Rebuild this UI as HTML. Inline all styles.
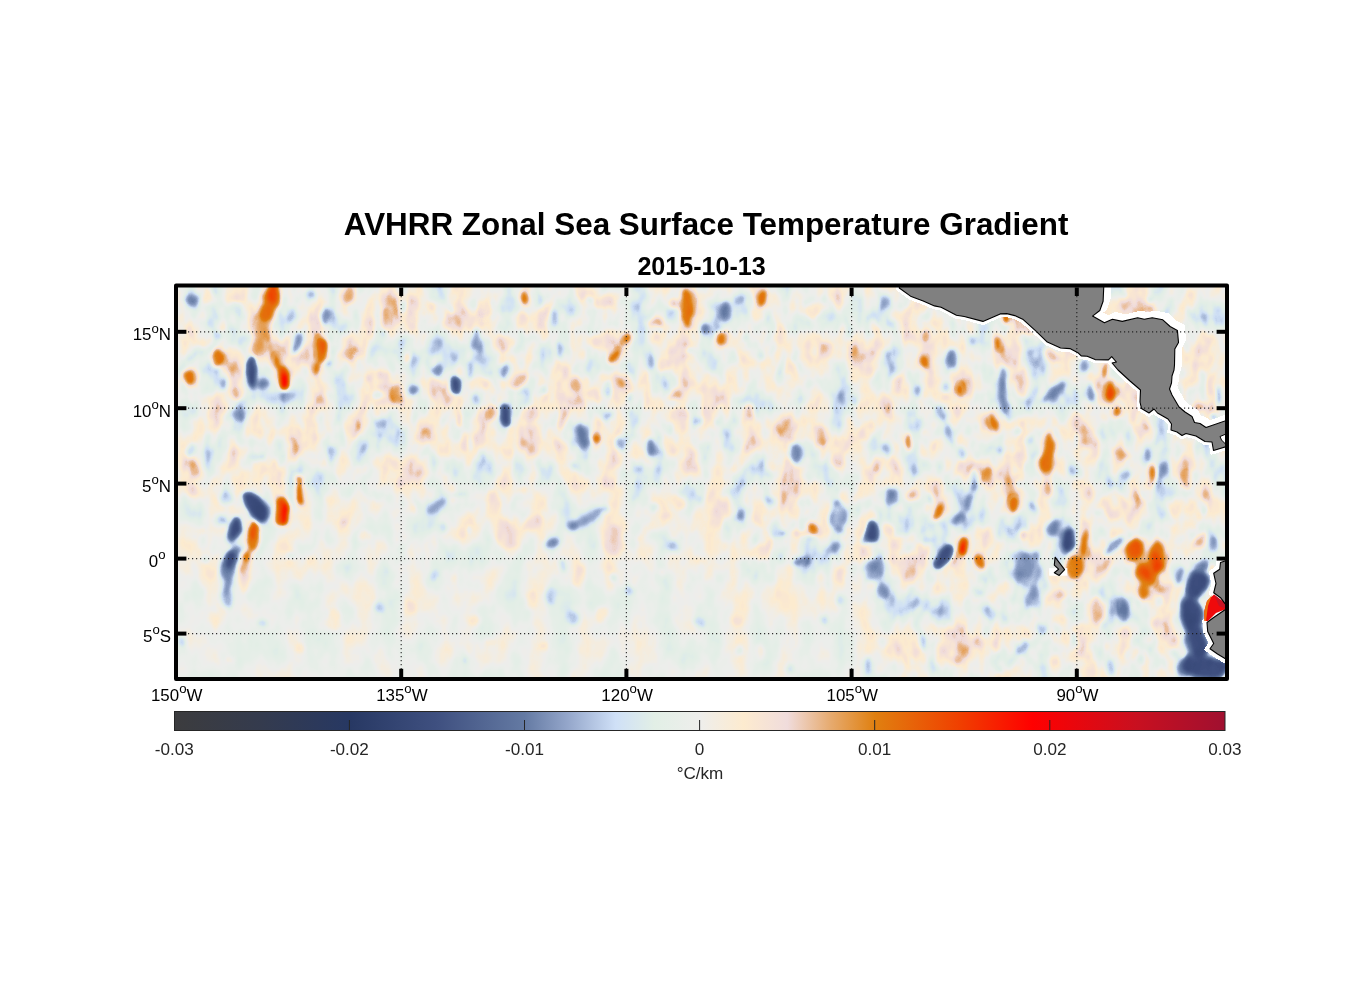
<!DOCTYPE html>
<html><head><meta charset="utf-8"><title>AVHRR Zonal Sea Surface Temperature Gradient</title>
<style>
html,body{margin:0;padding:0;background:#fff;}
body{width:1356px;height:1000px;overflow:hidden;font-family:"Liberation Sans",Arial,sans-serif;}
svg{display:block}
text{font-family:"Liberation Sans",Arial,sans-serif;fill:#000}
.t1{font-size:31.4px;font-weight:bold}
.t2{font-size:25.1px;font-weight:bold}
.tk{font-size:16.9px}
.sup{font-size:13.2px}
.cb{font-size:17.1px;fill:#262626}
</style></head><body>
<svg width="1356" height="1000" viewBox="0 0 1356 1000">
<defs>
<linearGradient id="cbg" x1="0" x2="1" y1="0" y2="0"><stop offset="0.0000" stop-color="#3c3c3e"/><stop offset="0.0833" stop-color="#343b4e"/><stop offset="0.1667" stop-color="#273863"/><stop offset="0.2500" stop-color="#3f5080"/><stop offset="0.3333" stop-color="#647aa3"/><stop offset="0.3750" stop-color="#95a7cb"/><stop offset="0.4200" stop-color="#cfe0f7"/><stop offset="0.4567" stop-color="#e2efe6"/><stop offset="0.5000" stop-color="#eeeeec"/><stop offset="0.5417" stop-color="#fdebcf"/><stop offset="0.5833" stop-color="#f0dcdc"/><stop offset="0.6250" stop-color="#e6aa6e"/><stop offset="0.6667" stop-color="#e08010"/><stop offset="0.7467" stop-color="#f04000"/><stop offset="0.8167" stop-color="#ff0000"/><stop offset="0.9167" stop-color="#c81020"/><stop offset="1.0000" stop-color="#a01030"/></linearGradient>
<clipPath id="mapclip"><rect x="176" y="285.5" width="1051" height="393.5"/></clipPath>
<filter id="fld" x="156" y="266" width="1092" height="434" filterUnits="userSpaceOnUse" color-interpolation-filters="sRGB">
<feTurbulence type="fractalNoise" baseFrequency="0.075 0.06" numOctaves="2" seed="5" result="dn"/>
<feColorMatrix in="dn" type="matrix" values="1 0 0 0 0  0 1 0 0 0  0 0 1 0 0  0 0 0 0 1" result="dn1"/>
<feDisplacementMap in="SourceGraphic" in2="dn1" scale="6.5" xChannelSelector="R" yChannelSelector="G" result="dsp"/>
<feGaussianBlur in="dsp" stdDeviation="2.1" result="bl"/>
<feTurbulence type="fractalNoise" baseFrequency="0.04 0.024" numOctaves="3" seed="11" result="nz"/>
<feColorMatrix in="nz" type="matrix" values="1 0 0 0 0  1 0 0 0 0  1 0 0 0 0  0 0 0 0 1" result="ng"/>
<feFlood flood-color="#fff" result="w"/>
<feFlood flood-color="rgb(150,150,150)" x="120" y="485" width="600" height="260" result="c1"/>
<feFlood flood-color="rgb(100,100,100)" x="120" y="580" width="760" height="180" result="c2"/>
<feMerge result="mk0"><feMergeNode in="w"/><feMergeNode in="c1"/><feMergeNode in="c2"/></feMerge>
<feGaussianBlur in="mk0" stdDeviation="22" result="mk"/>
<feComponentTransfer in="bl" result="fac"><feFuncR type="table" tableValues="0.22 0.22 0.22 0.22 0.22 0.22 0.22 0.22 0.22 0.22 0.22 0.22 0.22 0.22 0.25 0.45 0.64 0.84 1.00 1.00 1.00 1.00 0.81 0.62 0.42 0.23 0.22 0.22 0.22 0.22 0.22 0.22 0.22 0.22 0.22 0.22 0.22 0.22 0.22 0.22 0.22"/><feFuncG type="table" tableValues="0.22 0.22 0.22 0.22 0.22 0.22 0.22 0.22 0.22 0.22 0.22 0.22 0.22 0.22 0.25 0.45 0.64 0.84 1.00 1.00 1.00 1.00 0.81 0.62 0.42 0.23 0.22 0.22 0.22 0.22 0.22 0.22 0.22 0.22 0.22 0.22 0.22 0.22 0.22 0.22 0.22"/><feFuncB type="table" tableValues="0.22 0.22 0.22 0.22 0.22 0.22 0.22 0.22 0.22 0.22 0.22 0.22 0.22 0.22 0.25 0.45 0.64 0.84 1.00 1.00 1.00 1.00 0.81 0.62 0.42 0.23 0.22 0.22 0.22 0.22 0.22 0.22 0.22 0.22 0.22 0.22 0.22 0.22 0.22 0.22 0.22"/></feComponentTransfer>
<feComposite in="mk" in2="fac" operator="arithmetic" k1="1" k2="0" k3="0" k4="0" result="mk2"/>
<feComposite in="mk2" in2="ng" operator="arithmetic" k1="1" k2="0" k3="0" k4="0" result="t1"/>
<feComposite in="t1" in2="mk2" operator="arithmetic" k1="0" k2="1" k3="-0.45" k4="0.5" result="n2"/>
<feComposite in="bl" in2="n2" operator="arithmetic" k1="0" k2="1" k3="0.34" k4="-0.17" result="sum"/>
<feComponentTransfer in="sum">
<feFuncR type="table" tableValues="0.235 0.232 0.229 0.226 0.223 0.220 0.216 0.213 0.210 0.207 0.204 0.199 0.194 0.189 0.184 0.178 0.173 0.168 0.163 0.158 0.153 0.162 0.172 0.181 0.191 0.200 0.209 0.219 0.228 0.238 0.247 0.262 0.276 0.291 0.305 0.320 0.334 0.349 0.363 0.378 0.392 0.431 0.469 0.507 0.546 0.584 0.626 0.669 0.711 0.753 0.795 0.822 0.839 0.856 0.873 0.888 0.897 0.906 0.915 0.924 0.933 0.945 0.957 0.969 0.980 0.992 0.982 0.972 0.962 0.951 0.941 0.933 0.925 0.918 0.910 0.902 0.897 0.893 0.888 0.883 0.878 0.885 0.892 0.898 0.905 0.911 0.918 0.924 0.931 0.937 0.944 0.951 0.958 0.965 0.972 0.979 0.986 0.993 1.000 0.982 0.964 0.946 0.928 0.910 0.892 0.874 0.856 0.838 0.820 0.802 0.784 0.769 0.753 0.737 0.722 0.706 0.690 0.675 0.659 0.643 0.627"/>
<feFuncG type="table" tableValues="0.235 0.235 0.235 0.234 0.234 0.233 0.233 0.233 0.232 0.232 0.231 0.230 0.229 0.228 0.227 0.225 0.224 0.223 0.222 0.221 0.220 0.229 0.238 0.248 0.257 0.267 0.276 0.285 0.295 0.304 0.314 0.330 0.347 0.363 0.380 0.396 0.413 0.429 0.445 0.462 0.478 0.514 0.549 0.584 0.620 0.655 0.696 0.738 0.779 0.820 0.862 0.886 0.900 0.913 0.927 0.937 0.936 0.936 0.935 0.934 0.933 0.931 0.929 0.926 0.924 0.922 0.910 0.898 0.886 0.875 0.863 0.824 0.784 0.745 0.706 0.667 0.634 0.601 0.568 0.535 0.502 0.476 0.450 0.424 0.397 0.371 0.345 0.319 0.293 0.267 0.239 0.209 0.179 0.149 0.120 0.090 0.060 0.030 0.000 0.005 0.010 0.016 0.021 0.026 0.031 0.037 0.042 0.047 0.052 0.058 0.063 0.063 0.063 0.063 0.063 0.063 0.063 0.063 0.063 0.063 0.063"/>
<feFuncB type="table" tableValues="0.243 0.249 0.256 0.262 0.268 0.275 0.281 0.287 0.293 0.300 0.306 0.314 0.322 0.331 0.339 0.347 0.355 0.364 0.372 0.380 0.388 0.400 0.411 0.422 0.434 0.445 0.456 0.468 0.479 0.491 0.502 0.516 0.529 0.543 0.557 0.571 0.584 0.598 0.612 0.625 0.639 0.671 0.702 0.733 0.765 0.796 0.828 0.860 0.892 0.924 0.956 0.960 0.944 0.929 0.914 0.903 0.907 0.912 0.916 0.921 0.925 0.903 0.880 0.857 0.835 0.812 0.822 0.832 0.842 0.853 0.863 0.776 0.690 0.604 0.518 0.431 0.358 0.284 0.210 0.136 0.063 0.056 0.050 0.043 0.037 0.030 0.024 0.017 0.010 0.004 0.000 0.000 0.000 0.000 0.000 0.000 0.000 0.000 0.000 0.010 0.021 0.031 0.042 0.052 0.063 0.073 0.084 0.094 0.105 0.115 0.125 0.132 0.138 0.144 0.151 0.157 0.163 0.169 0.176 0.182 0.188"/>
</feComponentTransfer>
</filter>
<filter id="b1" x="-50%" y="-50%" width="200%" height="200%"><feGaussianBlur stdDeviation="1"/></filter>
<filter id="b2" x="-50%" y="-50%" width="200%" height="200%"><feGaussianBlur stdDeviation="2"/></filter>
<filter id="b3" x="-50%" y="-50%" width="200%" height="200%"><feGaussianBlur stdDeviation="3.2"/></filter>
<filter id="b5" x="-50%" y="-50%" width="200%" height="200%"><feGaussianBlur stdDeviation="5"/></filter>
</defs>
<rect width="1356" height="1000" fill="#fff"/>

<text class="t1" x="706.1" y="235.1" text-anchor="middle">AVHRR Zonal Sea Surface Temperature Gradient</text>
<text class="t2" x="701.6" y="275.1" text-anchor="middle">2015-10-13</text>
<g clip-path="url(#mapclip)">
<rect x="176" y="285.5" width="1051" height="393.5" fill="#eceeec"/>
<g filter="url(#fld)">
<rect x="150" y="260" width="1104" height="446" fill="rgb(124,124,124)"/>
<ellipse cx="292.0" cy="448.0" rx="4.8" ry="11.8" fill="rgb(136,136,136)"/>
<ellipse cx="504.0" cy="344.0" rx="11.8" ry="7.8" fill="rgb(136,136,136)"/>
<ellipse cx="484.0" cy="308.0" rx="7.8" ry="9.8" fill="rgb(136,136,136)"/>
<ellipse cx="522.0" cy="320.0" rx="6.8" ry="7.8" fill="rgb(136,136,136)"/>
<ellipse cx="574.0" cy="322.0" rx="7.8" ry="7.8" fill="rgb(136,136,136)"/>
<ellipse cx="604.0" cy="302.0" rx="9.8" ry="7.8" fill="rgb(136,136,136)" transform="rotate(-30 604.0 302.0)"/>
<ellipse cx="530.0" cy="414.0" rx="9.8" ry="9.8" fill="rgb(136,136,136)"/>
<ellipse cx="592.0" cy="342.0" rx="6.8" ry="6.8" fill="rgb(136,136,136)"/>
<ellipse cx="664.0" cy="366.0" rx="5.8" ry="7.8" fill="rgb(136,136,136)"/>
<ellipse cx="680.0" cy="422.0" rx="11.8" ry="13.8" fill="rgb(136,136,136)"/>
<ellipse cx="670.0" cy="444.0" rx="7.8" ry="11.8" fill="rgb(136,136,136)"/>
<ellipse cx="634.0" cy="448.0" rx="5.8" ry="11.8" fill="rgb(136,136,136)"/>
<ellipse cx="626.0" cy="380.0" rx="5.8" ry="6.8" fill="rgb(136,136,136)"/>
<ellipse cx="594.0" cy="396.0" rx="6.8" ry="6.8" fill="rgb(136,136,136)"/>
<ellipse cx="486.0" cy="382.0" rx="5.8" ry="6.8" fill="rgb(136,136,136)"/>
<ellipse cx="789.0" cy="366.0" rx="6.8" ry="8.8" fill="rgb(136,136,136)"/>
<ellipse cx="826.0" cy="350.0" rx="6.8" ry="8.8" fill="rgb(136,136,136)"/>
<ellipse cx="816.0" cy="310.0" rx="13.8" ry="7.8" fill="rgb(136,136,136)" transform="rotate(-20 816.0 310.0)"/>
<ellipse cx="876.0" cy="326.0" rx="5.8" ry="7.8" fill="rgb(136,136,136)"/>
<ellipse cx="870.0" cy="356.0" rx="5.8" ry="6.8" fill="rgb(136,136,136)"/>
<ellipse cx="896.0" cy="384.0" rx="6.8" ry="9.8" fill="rgb(136,136,136)"/>
<ellipse cx="932.0" cy="380.0" rx="5.8" ry="9.8" fill="rgb(136,136,136)"/>
<ellipse cx="820.0" cy="436.0" rx="7.8" ry="11.8" fill="rgb(136,136,136)"/>
<ellipse cx="866.0" cy="430.0" rx="9.8" ry="9.8" fill="rgb(136,136,136)"/>
<ellipse cx="772.0" cy="466.0" rx="6.8" ry="7.8" fill="rgb(136,136,136)"/>
<ellipse cx="836.0" cy="460.0" rx="6.8" ry="7.8" fill="rgb(136,136,136)"/>
<ellipse cx="876.0" cy="466.0" rx="5.8" ry="7.8" fill="rgb(136,136,136)"/>
<ellipse cx="906.0" cy="316.0" rx="5.8" ry="9.8" fill="rgb(136,136,136)"/>
<ellipse cx="926.0" cy="324.0" rx="5.8" ry="5.8" fill="rgb(136,136,136)"/>
<ellipse cx="1024.0" cy="384.0" rx="8.8" ry="15.8" fill="rgb(136,136,136)" transform="rotate(-15 1024.0 384.0)"/>
<ellipse cx="1099.0" cy="364.0" rx="4.8" ry="6.8" fill="rgb(136,136,136)"/>
<ellipse cx="1210.0" cy="384.0" rx="4.8" ry="11.8" fill="rgb(136,136,136)"/>
<ellipse cx="1174.0" cy="442.0" rx="4.8" ry="11.8" fill="rgb(136,136,136)"/>
<ellipse cx="1030.0" cy="330.0" rx="7.8" ry="7.8" fill="rgb(136,136,136)"/>
<ellipse cx="1075.0" cy="420.0" rx="6.8" ry="7.8" fill="rgb(136,136,136)"/>
<ellipse cx="1140.0" cy="430.0" rx="7.8" ry="6.8" fill="rgb(136,136,136)"/>
<ellipse cx="1090.0" cy="440.0" rx="6.8" ry="9.8" fill="rgb(136,136,136)"/>
<ellipse cx="1020.0" cy="460.0" rx="6.8" ry="7.8" fill="rgb(136,136,136)"/>
<ellipse cx="192.0" cy="490.0" rx="4.8" ry="7.8" fill="rgb(136,136,136)"/>
<ellipse cx="244.0" cy="582.0" rx="5.8" ry="11.8" fill="rgb(136,136,136)"/>
<ellipse cx="494.0" cy="508.0" rx="8.8" ry="18.8" fill="rgb(136,136,136)" transform="rotate(-10 494.0 508.0)"/>
<ellipse cx="504.0" cy="534.0" rx="10.8" ry="16.8" fill="rgb(136,136,136)" transform="rotate(-15 504.0 534.0)"/>
<ellipse cx="534.0" cy="522.0" rx="11.8" ry="5.8" fill="rgb(136,136,136)" transform="rotate(-35 534.0 522.0)"/>
<ellipse cx="614.0" cy="540.0" rx="9.8" ry="16.8" fill="rgb(136,136,136)"/>
<ellipse cx="679.0" cy="502.0" rx="6.8" ry="7.8" fill="rgb(136,136,136)"/>
<ellipse cx="579.0" cy="576.0" rx="5.8" ry="11.8" fill="rgb(136,136,136)" transform="rotate(20 579.0 576.0)"/>
<ellipse cx="937.0" cy="590.0" rx="4.8" ry="10.8" fill="rgb(136,136,136)" transform="rotate(15 937.0 590.0)"/>
<ellipse cx="980.0" cy="642.0" rx="4.8" ry="5.8" fill="rgb(136,136,136)"/>
<ellipse cx="966.0" cy="652.0" rx="4.8" ry="4.8" fill="rgb(136,136,136)"/>
<ellipse cx="888.0" cy="530.0" rx="4.8" ry="7.8" fill="rgb(136,136,136)"/>
<ellipse cx="760.0" cy="554.0" rx="9.8" ry="7.8" fill="rgb(136,136,136)"/>
<ellipse cx="1098.0" cy="610.0" rx="10.8" ry="15.8" fill="rgb(136,136,136)" transform="rotate(-10 1098.0 610.0)"/>
<ellipse cx="1114.0" cy="504.0" rx="11.8" ry="15.8" fill="rgb(136,136,136)"/>
<ellipse cx="1086.0" cy="530.0" rx="6.8" ry="9.8" fill="rgb(136,136,136)"/>
<ellipse cx="350.0" cy="354.0" rx="13.6" ry="6.6" fill="rgb(136,136,136)"/>
<ellipse cx="376.0" cy="376.0" rx="9.6" ry="5.6" fill="rgb(136,136,136)"/>
<ellipse cx="334.0" cy="384.0" rx="5.6" ry="9.6" fill="rgb(136,136,136)"/>
<ellipse cx="352.0" cy="428.0" rx="8.6" ry="12.6" fill="rgb(136,136,136)"/>
<ellipse cx="384.0" cy="450.0" rx="4.6" ry="12.6" fill="rgb(136,136,136)"/>
<ellipse cx="424.0" cy="436.0" rx="6.6" ry="8.6" fill="rgb(136,136,136)"/>
<ellipse cx="224.0" cy="428.0" rx="7.6" ry="7.6" fill="rgb(136,136,136)"/>
<ellipse cx="202.0" cy="342.0" rx="9.6" ry="4.6" fill="rgb(136,136,136)"/>
<ellipse cx="208.0" cy="298.0" rx="5.6" ry="7.6" fill="rgb(136,136,136)"/>
<ellipse cx="194.0" cy="470.0" rx="5.6" ry="7.6" fill="rgb(136,136,136)"/>
<ellipse cx="433.0" cy="306.0" rx="4.6" ry="4.6" fill="rgb(136,136,136)"/>
<ellipse cx="1192.0" cy="300.0" rx="4.6" ry="9.6" fill="rgb(136,136,136)"/>
<ellipse cx="1186.0" cy="384.0" rx="4.6" ry="7.6" fill="rgb(136,136,136)"/>
<ellipse cx="1150.0" cy="310.0" rx="5.6" ry="3.6" fill="rgb(136,136,136)"/>
<ellipse cx="1200.0" cy="350.0" rx="4.6" ry="7.6" fill="rgb(136,136,136)"/>
<ellipse cx="366.0" cy="536.0" rx="7.6" ry="5.6" fill="rgb(136,136,136)"/>
<ellipse cx="334.0" cy="620.0" rx="7.6" ry="11.6" fill="rgb(136,136,136)"/>
<ellipse cx="410.0" cy="608.0" rx="5.6" ry="7.6" fill="rgb(136,136,136)"/>
<ellipse cx="214.0" cy="620.0" rx="5.6" ry="9.6" fill="rgb(136,136,136)"/>
<ellipse cx="414.0" cy="508.0" rx="3.6" ry="4.6" fill="rgb(136,136,136)"/>
<ellipse cx="344.0" cy="522.0" rx="3.6" ry="3.6" fill="rgb(136,136,136)"/>
<ellipse cx="200.0" cy="530.0" rx="5.6" ry="4.6" fill="rgb(136,136,136)"/>
<ellipse cx="310.0" cy="560.0" rx="4.6" ry="4.6" fill="rgb(136,136,136)"/>
<ellipse cx="300.0" cy="650.0" rx="4.6" ry="4.6" fill="rgb(136,136,136)"/>
<ellipse cx="230.0" cy="660.0" rx="4.6" ry="3.6" fill="rgb(136,136,136)"/>
<ellipse cx="653.0" cy="527.0" rx="21.6" ry="4.6" fill="rgb(136,136,136)" transform="rotate(-38 653.0 527.0)"/>
<ellipse cx="532.0" cy="600.0" rx="4.6" ry="7.6" fill="rgb(136,136,136)"/>
<ellipse cx="602.0" cy="614.0" rx="6.6" ry="7.6" fill="rgb(136,136,136)"/>
<ellipse cx="476.0" cy="622.0" rx="5.6" ry="5.6" fill="rgb(136,136,136)"/>
<ellipse cx="490.0" cy="642.0" rx="5.6" ry="3.6" fill="rgb(136,136,136)"/>
<ellipse cx="544.0" cy="646.0" rx="4.6" ry="3.6" fill="rgb(136,136,136)"/>
<ellipse cx="662.0" cy="572.0" rx="3.6" ry="3.6" fill="rgb(136,136,136)"/>
<ellipse cx="454.0" cy="578.0" rx="3.6" ry="4.6" fill="rgb(136,136,136)"/>
<ellipse cx="520.0" cy="490.0" rx="7.6" ry="3.6" fill="rgb(136,136,136)"/>
<ellipse cx="700.0" cy="560.0" rx="5.6" ry="3.6" fill="rgb(136,136,136)"/>
<ellipse cx="936.0" cy="594.0" rx="6.6" ry="16.6" fill="rgb(136,136,136)" transform="rotate(15 936.0 594.0)"/>
<ellipse cx="728.0" cy="506.0" rx="7.6" ry="13.6" fill="rgb(136,136,136)"/>
<ellipse cx="762.0" cy="516.0" rx="9.6" ry="11.6" fill="rgb(136,136,136)"/>
<ellipse cx="784.0" cy="498.0" rx="3.6" ry="7.6" fill="rgb(136,136,136)"/>
<ellipse cx="802.0" cy="512.0" rx="9.6" ry="7.6" fill="rgb(136,136,136)"/>
<ellipse cx="902.0" cy="542.0" rx="9.6" ry="7.6" fill="rgb(136,136,136)"/>
<ellipse cx="738.0" cy="620.0" rx="5.6" ry="5.6" fill="rgb(136,136,136)"/>
<ellipse cx="840.0" cy="576.0" rx="5.6" ry="7.6" fill="rgb(136,136,136)"/>
<ellipse cx="760.0" cy="652.0" rx="3.6" ry="9.6" fill="rgb(136,136,136)"/>
<ellipse cx="886.0" cy="636.0" rx="7.6" ry="3.6" fill="rgb(136,136,136)"/>
<ellipse cx="856.0" cy="500.0" rx="3.6" ry="7.6" fill="rgb(136,136,136)"/>
<ellipse cx="978.0" cy="532.0" rx="7.6" ry="7.6" fill="rgb(136,136,136)"/>
<ellipse cx="996.0" cy="646.0" rx="4.6" ry="7.6" fill="rgb(136,136,136)"/>
<ellipse cx="978.0" cy="640.0" rx="2.6" ry="3.6" fill="rgb(136,136,136)"/>
<ellipse cx="1158.0" cy="622.0" rx="4.6" ry="4.6" fill="rgb(136,136,136)"/>
<ellipse cx="1122.0" cy="648.0" rx="3.6" ry="7.6" fill="rgb(136,136,136)"/>
<ellipse cx="1188.0" cy="512.0" rx="3.6" ry="5.6" fill="rgb(136,136,136)"/>
<ellipse cx="1176.0" cy="532.0" rx="5.6" ry="7.6" fill="rgb(136,136,136)"/>
<ellipse cx="1052.0" cy="548.0" rx="2.6" ry="3.6" fill="rgb(136,136,136)"/>
<ellipse cx="1060.0" cy="620.0" rx="5.6" ry="7.6" fill="rgb(136,136,136)"/>
<ellipse cx="1150.0" cy="640.0" rx="4.6" ry="5.6" fill="rgb(136,136,136)"/>
<ellipse cx="292.0" cy="448.0" rx="2.6" ry="9.6" fill="rgb(142,142,142)"/>
<ellipse cx="504.0" cy="344.0" rx="9.6" ry="5.6" fill="rgb(142,142,142)"/>
<ellipse cx="484.0" cy="308.0" rx="5.6" ry="7.6" fill="rgb(142,142,142)"/>
<ellipse cx="522.0" cy="320.0" rx="4.6" ry="5.6" fill="rgb(142,142,142)"/>
<ellipse cx="574.0" cy="322.0" rx="5.6" ry="5.6" fill="rgb(142,142,142)"/>
<ellipse cx="604.0" cy="302.0" rx="7.6" ry="5.6" fill="rgb(142,142,142)" transform="rotate(-30 604.0 302.0)"/>
<ellipse cx="530.0" cy="414.0" rx="7.6" ry="7.6" fill="rgb(142,142,142)"/>
<ellipse cx="592.0" cy="342.0" rx="4.6" ry="4.6" fill="rgb(142,142,142)"/>
<ellipse cx="664.0" cy="366.0" rx="3.6" ry="5.6" fill="rgb(142,142,142)"/>
<ellipse cx="680.0" cy="422.0" rx="9.6" ry="11.6" fill="rgb(142,142,142)"/>
<ellipse cx="670.0" cy="444.0" rx="5.6" ry="9.6" fill="rgb(142,142,142)"/>
<ellipse cx="634.0" cy="448.0" rx="3.6" ry="9.6" fill="rgb(142,142,142)"/>
<ellipse cx="626.0" cy="380.0" rx="3.6" ry="4.6" fill="rgb(142,142,142)"/>
<ellipse cx="594.0" cy="396.0" rx="4.6" ry="4.6" fill="rgb(142,142,142)"/>
<ellipse cx="486.0" cy="382.0" rx="3.6" ry="4.6" fill="rgb(142,142,142)"/>
<ellipse cx="789.0" cy="366.0" rx="4.6" ry="6.6" fill="rgb(142,142,142)"/>
<ellipse cx="826.0" cy="350.0" rx="4.6" ry="6.6" fill="rgb(142,142,142)"/>
<ellipse cx="816.0" cy="310.0" rx="11.6" ry="5.6" fill="rgb(142,142,142)" transform="rotate(-20 816.0 310.0)"/>
<ellipse cx="876.0" cy="326.0" rx="3.6" ry="5.6" fill="rgb(142,142,142)"/>
<ellipse cx="870.0" cy="356.0" rx="3.6" ry="4.6" fill="rgb(142,142,142)"/>
<ellipse cx="896.0" cy="384.0" rx="4.6" ry="7.6" fill="rgb(142,142,142)"/>
<ellipse cx="932.0" cy="380.0" rx="3.6" ry="7.6" fill="rgb(142,142,142)"/>
<ellipse cx="820.0" cy="436.0" rx="5.6" ry="9.6" fill="rgb(142,142,142)"/>
<ellipse cx="866.0" cy="430.0" rx="7.6" ry="7.6" fill="rgb(142,142,142)"/>
<ellipse cx="772.0" cy="466.0" rx="4.6" ry="5.6" fill="rgb(142,142,142)"/>
<ellipse cx="836.0" cy="460.0" rx="4.6" ry="5.6" fill="rgb(142,142,142)"/>
<ellipse cx="876.0" cy="466.0" rx="3.6" ry="5.6" fill="rgb(142,142,142)"/>
<ellipse cx="906.0" cy="316.0" rx="3.6" ry="7.6" fill="rgb(142,142,142)"/>
<ellipse cx="926.0" cy="324.0" rx="3.6" ry="3.6" fill="rgb(142,142,142)"/>
<ellipse cx="1024.0" cy="384.0" rx="6.6" ry="13.6" fill="rgb(142,142,142)" transform="rotate(-15 1024.0 384.0)"/>
<ellipse cx="1099.0" cy="364.0" rx="2.6" ry="4.6" fill="rgb(142,142,142)"/>
<ellipse cx="1210.0" cy="384.0" rx="2.6" ry="9.6" fill="rgb(142,142,142)"/>
<ellipse cx="1174.0" cy="442.0" rx="2.6" ry="9.6" fill="rgb(142,142,142)"/>
<ellipse cx="1030.0" cy="330.0" rx="5.6" ry="5.6" fill="rgb(142,142,142)"/>
<ellipse cx="1075.0" cy="420.0" rx="4.6" ry="5.6" fill="rgb(142,142,142)"/>
<ellipse cx="1140.0" cy="430.0" rx="5.6" ry="4.6" fill="rgb(142,142,142)"/>
<ellipse cx="1090.0" cy="440.0" rx="4.6" ry="7.6" fill="rgb(142,142,142)"/>
<ellipse cx="1020.0" cy="460.0" rx="4.6" ry="5.6" fill="rgb(142,142,142)"/>
<ellipse cx="192.0" cy="490.0" rx="2.6" ry="5.6" fill="rgb(142,142,142)"/>
<ellipse cx="244.0" cy="582.0" rx="3.6" ry="9.6" fill="rgb(142,142,142)"/>
<ellipse cx="494.0" cy="508.0" rx="6.6" ry="16.6" fill="rgb(142,142,142)" transform="rotate(-10 494.0 508.0)"/>
<ellipse cx="504.0" cy="534.0" rx="8.6" ry="14.6" fill="rgb(142,142,142)" transform="rotate(-15 504.0 534.0)"/>
<ellipse cx="534.0" cy="522.0" rx="9.6" ry="3.6" fill="rgb(142,142,142)" transform="rotate(-35 534.0 522.0)"/>
<ellipse cx="614.0" cy="540.0" rx="7.6" ry="14.6" fill="rgb(142,142,142)"/>
<ellipse cx="679.0" cy="502.0" rx="4.6" ry="5.6" fill="rgb(142,142,142)"/>
<ellipse cx="579.0" cy="576.0" rx="3.6" ry="9.6" fill="rgb(142,142,142)" transform="rotate(20 579.0 576.0)"/>
<ellipse cx="937.0" cy="590.0" rx="2.6" ry="8.6" fill="rgb(142,142,142)" transform="rotate(15 937.0 590.0)"/>
<ellipse cx="980.0" cy="642.0" rx="2.6" ry="3.6" fill="rgb(142,142,142)"/>
<ellipse cx="966.0" cy="652.0" rx="2.6" ry="2.6" fill="rgb(142,142,142)"/>
<ellipse cx="888.0" cy="530.0" rx="2.6" ry="5.6" fill="rgb(142,142,142)"/>
<ellipse cx="760.0" cy="554.0" rx="7.6" ry="5.6" fill="rgb(142,142,142)"/>
<ellipse cx="1098.0" cy="610.0" rx="8.6" ry="13.6" fill="rgb(142,142,142)" transform="rotate(-10 1098.0 610.0)"/>
<ellipse cx="1114.0" cy="504.0" rx="9.6" ry="13.6" fill="rgb(142,142,142)"/>
<ellipse cx="1086.0" cy="530.0" rx="4.6" ry="7.6" fill="rgb(142,142,142)"/>
<ellipse cx="262.0" cy="330.0" rx="8.8" ry="12.8" fill="rgb(144,144,144)" transform="rotate(10 262.0 330.0)"/>
<ellipse cx="259.0" cy="346.0" rx="6.8" ry="9.8" fill="rgb(144,144,144)"/>
<ellipse cx="348.0" cy="295.0" rx="8.8" ry="10.8" fill="rgb(144,144,144)" transform="rotate(20 348.0 295.0)"/>
<ellipse cx="386.0" cy="320.0" rx="4.8" ry="10.8" fill="rgb(144,144,144)"/>
<ellipse cx="238.0" cy="395.0" rx="4.8" ry="7.8" fill="rgb(144,144,144)"/>
<ellipse cx="407.0" cy="358.0" rx="4.3" ry="6.8" fill="rgb(144,144,144)"/>
<ellipse cx="397.0" cy="393.0" rx="5.3" ry="10.8" fill="rgb(144,144,144)"/>
<ellipse cx="674.0" cy="304.0" rx="6.8" ry="6.8" fill="rgb(144,144,144)"/>
<ellipse cx="654.0" cy="322.0" rx="7.8" ry="4.8" fill="rgb(144,144,144)"/>
<ellipse cx="519.0" cy="382.0" rx="11.8" ry="6.8" fill="rgb(144,144,144)" transform="rotate(-40 519.0 382.0)"/>
<ellipse cx="576.0" cy="383.0" rx="4.8" ry="8.8" fill="rgb(144,144,144)"/>
<ellipse cx="674.0" cy="396.0" rx="8.8" ry="5.8" fill="rgb(144,144,144)" transform="rotate(-30 674.0 396.0)"/>
<ellipse cx="491.0" cy="413.0" rx="4.8" ry="8.8" fill="rgb(144,144,144)"/>
<ellipse cx="460.0" cy="420.0" rx="4.3" ry="8.8" fill="rgb(144,144,144)"/>
<ellipse cx="563.0" cy="420.0" rx="5.3" ry="12.8" fill="rgb(144,144,144)" transform="rotate(10 563.0 420.0)"/>
<ellipse cx="925.0" cy="334.0" rx="4.8" ry="5.8" fill="rgb(144,144,144)"/>
<ellipse cx="749.0" cy="412.0" rx="5.8" ry="8.8" fill="rgb(144,144,144)"/>
<ellipse cx="1051.0" cy="355.0" rx="7.8" ry="7.8" fill="rgb(144,144,144)"/>
<ellipse cx="1122.0" cy="454.0" rx="8.8" ry="5.8" fill="rgb(144,144,144)" transform="rotate(20 1122.0 454.0)"/>
<ellipse cx="988.0" cy="476.0" rx="4.8" ry="7.8" fill="rgb(144,144,144)"/>
<ellipse cx="1199.0" cy="407.0" rx="7.8" ry="5.8" fill="rgb(144,144,144)"/>
<ellipse cx="1186.0" cy="476.0" rx="4.8" ry="6.8" fill="rgb(144,144,144)"/>
<ellipse cx="243.0" cy="567.0" rx="5.8" ry="7.8" fill="rgb(144,144,144)" transform="rotate(25 243.0 567.0)"/>
<ellipse cx="802.0" cy="534.0" rx="9.8" ry="3.8" fill="rgb(144,144,144)"/>
<ellipse cx="913.0" cy="496.0" rx="5.8" ry="5.8" fill="rgb(144,144,144)"/>
<ellipse cx="956.0" cy="660.0" rx="4.8" ry="4.8" fill="rgb(144,144,144)"/>
<ellipse cx="1024.0" cy="535.0" rx="4.8" ry="5.8" fill="rgb(144,144,144)"/>
<ellipse cx="1098.0" cy="609.0" rx="8.3" ry="12.8" fill="rgb(144,144,144)" transform="rotate(-10 1098.0 609.0)"/>
<ellipse cx="1060.0" cy="595.0" rx="6.8" ry="6.8" fill="rgb(144,144,144)"/>
<ellipse cx="1202.0" cy="540.0" rx="5.8" ry="8.8" fill="rgb(144,144,144)" transform="rotate(25 1202.0 540.0)"/>
<ellipse cx="1135.0" cy="496.0" rx="3.8" ry="5.8" fill="rgb(144,144,144)"/>
<ellipse cx="1150.0" cy="484.0" rx="4.8" ry="4.8" fill="rgb(144,144,144)"/>
<ellipse cx="1186.0" cy="485.0" rx="4.8" ry="5.8" fill="rgb(144,144,144)"/>
<ellipse cx="1205.0" cy="494.0" rx="4.8" ry="7.8" fill="rgb(144,144,144)"/>
<ellipse cx="1048.0" cy="488.0" rx="3.8" ry="7.8" fill="rgb(144,144,144)"/>
<ellipse cx="990.0" cy="486.0" rx="3.8" ry="5.8" fill="rgb(144,144,144)"/>
<ellipse cx="1211.0" cy="568.0" rx="4.8" ry="5.8" fill="rgb(144,144,144)"/>
<ellipse cx="292.0" cy="316.0" rx="6.0" ry="10.0" fill="rgb(110,110,110)"/>
<ellipse cx="310.0" cy="294.0" rx="7.0" ry="6.0" fill="rgb(110,110,110)"/>
<ellipse cx="404.0" cy="306.0" rx="5.0" ry="8.0" fill="rgb(110,110,110)"/>
<ellipse cx="224.0" cy="385.0" rx="5.0" ry="7.0" fill="rgb(110,110,110)"/>
<ellipse cx="191.0" cy="450.0" rx="6.0" ry="10.0" fill="rgb(110,110,110)"/>
<ellipse cx="238.0" cy="414.0" rx="7.0" ry="6.0" fill="rgb(110,110,110)"/>
<ellipse cx="554.0" cy="318.0" rx="6.0" ry="11.0" fill="rgb(110,110,110)"/>
<ellipse cx="476.0" cy="338.0" rx="6.0" ry="12.0" fill="rgb(110,110,110)"/>
<ellipse cx="649.0" cy="362.0" rx="5.5" ry="10.0" fill="rgb(110,110,110)"/>
<ellipse cx="608.0" cy="388.0" rx="5.0" ry="10.0" fill="rgb(110,110,110)"/>
<ellipse cx="630.0" cy="398.0" rx="6.0" ry="7.0" fill="rgb(110,110,110)"/>
<ellipse cx="607.0" cy="416.0" rx="8.0" ry="5.5" fill="rgb(110,110,110)" transform="rotate(-30 607.0 416.0)"/>
<ellipse cx="476.0" cy="400.0" rx="5.0" ry="7.0" fill="rgb(110,110,110)"/>
<ellipse cx="620.0" cy="442.0" rx="6.0" ry="8.0" fill="rgb(110,110,110)"/>
<ellipse cx="885.0" cy="302.0" rx="5.0" ry="8.0" fill="rgb(110,110,110)"/>
<ellipse cx="971.0" cy="341.0" rx="6.0" ry="7.0" fill="rgb(110,110,110)"/>
<ellipse cx="945.0" cy="387.0" rx="6.0" ry="7.0" fill="rgb(110,110,110)" transform="rotate(30 945.0 387.0)"/>
<ellipse cx="918.0" cy="392.0" rx="4.5" ry="9.0" fill="rgb(110,110,110)" transform="rotate(20 918.0 392.0)"/>
<ellipse cx="941.0" cy="412.0" rx="6.0" ry="10.0" fill="rgb(110,110,110)" transform="rotate(-15 941.0 412.0)"/>
<ellipse cx="950.0" cy="434.0" rx="6.0" ry="12.0" fill="rgb(110,110,110)" transform="rotate(-20 950.0 434.0)"/>
<ellipse cx="961.0" cy="453.0" rx="6.0" ry="8.0" fill="rgb(110,110,110)" transform="rotate(-30 961.0 453.0)"/>
<ellipse cx="887.0" cy="449.0" rx="6.0" ry="7.0" fill="rgb(110,110,110)"/>
<ellipse cx="914.0" cy="472.0" rx="5.0" ry="8.0" fill="rgb(110,110,110)"/>
<ellipse cx="974.0" cy="476.0" rx="6.0" ry="8.0" fill="rgb(110,110,110)"/>
<ellipse cx="1124.0" cy="476.0" rx="8.0" ry="6.0" fill="rgb(110,110,110)"/>
<ellipse cx="1164.0" cy="470.0" rx="7.0" ry="8.0" fill="rgb(110,110,110)"/>
<ellipse cx="1018.0" cy="432.0" rx="5.0" ry="5.0" fill="rgb(110,110,110)"/>
<ellipse cx="1084.0" cy="366.0" rx="6.0" ry="7.0" fill="rgb(110,110,110)"/>
<ellipse cx="1008.0" cy="418.0" rx="5.0" ry="7.0" fill="rgb(110,110,110)"/>
<ellipse cx="227.0" cy="598.0" rx="6.5" ry="11.0" fill="rgb(110,110,110)"/>
<ellipse cx="436.0" cy="506.0" rx="12.0" ry="6.0" fill="rgb(110,110,110)" transform="rotate(-35 436.0 506.0)"/>
<ellipse cx="222.0" cy="520.0" rx="6.0" ry="7.0" fill="rgb(110,110,110)"/>
<ellipse cx="589.0" cy="518.0" rx="24.0" ry="5.5" fill="rgb(110,110,110)" transform="rotate(-28 589.0 518.0)"/>
<ellipse cx="564.0" cy="566.0" rx="4.5" ry="10.0" fill="rgb(110,110,110)"/>
<ellipse cx="674.0" cy="547.0" rx="7.0" ry="7.0" fill="rgb(110,110,110)"/>
<ellipse cx="838.0" cy="516.0" rx="10.0" ry="18.0" fill="rgb(110,110,110)"/>
<ellipse cx="774.0" cy="535.0" rx="4.0" ry="5.0" fill="rgb(110,110,110)"/>
<ellipse cx="892.0" cy="497.0" rx="9.0" ry="10.0" fill="rgb(110,110,110)"/>
<ellipse cx="874.0" cy="570.0" rx="12.0" ry="13.0" fill="rgb(110,110,110)"/>
<ellipse cx="882.0" cy="590.0" rx="8.0" ry="8.0" fill="rgb(110,110,110)"/>
<ellipse cx="930.0" cy="498.0" rx="4.0" ry="7.0" fill="rgb(110,110,110)"/>
<ellipse cx="922.0" cy="642.0" rx="5.0" ry="8.0" fill="rgb(110,110,110)"/>
<ellipse cx="868.0" cy="666.0" rx="5.0" ry="10.0" fill="rgb(110,110,110)"/>
<ellipse cx="1028.0" cy="570.0" rx="16.0" ry="20.0" fill="rgb(110,110,110)"/>
<ellipse cx="1032.0" cy="598.0" rx="10.0" ry="12.0" fill="rgb(110,110,110)"/>
<ellipse cx="1020.0" cy="556.0" rx="9.0" ry="9.0" fill="rgb(110,110,110)"/>
<ellipse cx="1042.0" cy="629.0" rx="7.0" ry="7.0" fill="rgb(110,110,110)"/>
<ellipse cx="1023.0" cy="648.0" rx="6.0" ry="10.0" fill="rgb(110,110,110)" transform="rotate(25 1023.0 648.0)"/>
<ellipse cx="1112.0" cy="668.0" rx="6.0" ry="12.0" fill="rgb(110,110,110)"/>
<ellipse cx="1214.0" cy="546.0" rx="5.0" ry="7.0" fill="rgb(110,110,110)"/>
<ellipse cx="1033.0" cy="508.0" rx="5.0" ry="8.0" fill="rgb(110,110,110)"/>
<ellipse cx="1143.0" cy="494.0" rx="3.5" ry="7.0" fill="rgb(110,110,110)"/>
<ellipse cx="1019.0" cy="485.0" rx="4.0" ry="5.0" fill="rgb(110,110,110)"/>
<ellipse cx="191.0" cy="300.0" rx="8.0" ry="8.0" fill="rgb(106,106,106)"/>
<ellipse cx="326.0" cy="317.0" rx="7.5" ry="11.0" fill="rgb(106,106,106)"/>
<ellipse cx="297.0" cy="344.0" rx="7.0" ry="13.0" fill="rgb(106,106,106)" transform="rotate(15 297.0 344.0)"/>
<ellipse cx="263.0" cy="383.0" rx="8.0" ry="7.0" fill="rgb(106,106,106)"/>
<ellipse cx="414.0" cy="390.0" rx="6.0" ry="7.0" fill="rgb(106,106,106)"/>
<ellipse cx="438.0" cy="370.0" rx="8.0" ry="8.0" fill="rgb(106,106,106)" transform="rotate(30 438.0 370.0)"/>
<ellipse cx="706.0" cy="329.0" rx="6.0" ry="7.0" fill="rgb(106,106,106)"/>
<ellipse cx="505.0" cy="372.0" rx="6.0" ry="10.0" fill="rgb(106,106,106)" transform="rotate(10 505.0 372.0)"/>
<ellipse cx="583.0" cy="437.0" rx="8.0" ry="14.0" fill="rgb(106,106,106)" transform="rotate(-10 583.0 437.0)"/>
<ellipse cx="651.0" cy="448.0" rx="6.5" ry="10.0" fill="rgb(106,106,106)"/>
<ellipse cx="724.0" cy="310.0" rx="7.0" ry="11.0" fill="rgb(106,106,106)"/>
<ellipse cx="952.0" cy="358.0" rx="7.0" ry="11.0" fill="rgb(106,106,106)"/>
<ellipse cx="796.0" cy="454.0" rx="9.0" ry="13.0" fill="rgb(106,106,106)" transform="rotate(-5 796.0 454.0)"/>
<ellipse cx="1003.0" cy="380.0" rx="6.5" ry="14.0" fill="rgb(106,106,106)"/>
<ellipse cx="1004.0" cy="402.0" rx="6.5" ry="14.0" fill="rgb(106,106,106)" transform="rotate(-5 1004.0 402.0)"/>
<ellipse cx="1003.0" cy="391.0" rx="6.0" ry="22.0" fill="rgb(106,106,106)"/>
<ellipse cx="1054.0" cy="392.0" rx="17.0" ry="7.0" fill="rgb(106,106,106)" transform="rotate(-40 1054.0 392.0)"/>
<ellipse cx="1091.0" cy="393.0" rx="6.5" ry="11.0" fill="rgb(106,106,106)"/>
<ellipse cx="1147.0" cy="456.0" rx="4.5" ry="10.0" fill="rgb(106,106,106)"/>
<ellipse cx="1219.0" cy="396.0" rx="4.5" ry="12.0" fill="rgb(106,106,106)"/>
<ellipse cx="1214.0" cy="417.0" rx="6.0" ry="5.0" fill="rgb(106,106,106)"/>
<ellipse cx="234.0" cy="531.0" rx="7.5" ry="16.0" fill="rgb(106,106,106)" transform="rotate(10 234.0 531.0)"/>
<ellipse cx="229.0" cy="566.0" rx="9.5" ry="16.0" fill="rgb(106,106,106)" transform="rotate(15 229.0 566.0)"/>
<ellipse cx="237.0" cy="551.0" rx="7.0" ry="7.0" fill="rgb(106,106,106)"/>
<ellipse cx="228.0" cy="586.0" rx="6.0" ry="12.0" fill="rgb(106,106,106)" transform="rotate(5 228.0 586.0)"/>
<ellipse cx="551.0" cy="544.0" rx="9.0" ry="7.0" fill="rgb(106,106,106)" transform="rotate(-20 551.0 544.0)"/>
<ellipse cx="574.0" cy="526.0" rx="7.0" ry="6.0" fill="rgb(106,106,106)"/>
<ellipse cx="866.0" cy="540.0" rx="6.0" ry="7.0" fill="rgb(106,106,106)"/>
<ellipse cx="835.0" cy="548.0" rx="6.0" ry="7.0" fill="rgb(106,106,106)"/>
<ellipse cx="799.0" cy="561.0" rx="10.0" ry="5.5" fill="rgb(106,106,106)" transform="rotate(-10 799.0 561.0)"/>
<ellipse cx="740.0" cy="516.0" rx="6.0" ry="7.0" fill="rgb(106,106,106)"/>
<ellipse cx="783.0" cy="533.0" rx="5.0" ry="5.0" fill="rgb(106,106,106)"/>
<ellipse cx="832.0" cy="518.0" rx="5.0" ry="11.0" fill="rgb(106,106,106)"/>
<ellipse cx="845.0" cy="516.0" rx="5.0" ry="11.0" fill="rgb(106,106,106)"/>
<ellipse cx="838.0" cy="503.0" rx="6.0" ry="5.0" fill="rgb(106,106,106)"/>
<ellipse cx="840.0" cy="530.0" rx="6.0" ry="5.0" fill="rgb(106,106,106)"/>
<ellipse cx="974.0" cy="486.0" rx="5.5" ry="9.0" fill="rgb(106,106,106)" transform="rotate(15 974.0 486.0)"/>
<ellipse cx="968.0" cy="502.0" rx="5.5" ry="11.0" fill="rgb(106,106,106)" transform="rotate(20 968.0 502.0)"/>
<ellipse cx="958.0" cy="518.0" rx="6.5" ry="8.0" fill="rgb(106,106,106)" transform="rotate(40 958.0 518.0)"/>
<ellipse cx="890.0" cy="495.0" rx="6.0" ry="7.0" fill="rgb(106,106,106)"/>
<ellipse cx="872.0" cy="566.0" rx="7.0" ry="8.0" fill="rgb(106,106,106)"/>
<ellipse cx="1053.0" cy="528.0" rx="7.0" ry="11.0" fill="rgb(106,106,106)" transform="rotate(30 1053.0 528.0)"/>
<ellipse cx="1114.0" cy="546.0" rx="14.0" ry="7.0" fill="rgb(106,106,106)" transform="rotate(-45 1114.0 546.0)"/>
<ellipse cx="1124.0" cy="610.0" rx="6.0" ry="14.0" fill="rgb(106,106,106)" transform="rotate(-5 1124.0 610.0)"/>
<ellipse cx="1180.0" cy="576.0" rx="5.0" ry="11.0" fill="rgb(106,106,106)" transform="rotate(10 1180.0 576.0)"/>
<ellipse cx="1025.0" cy="566.0" rx="11.0" ry="15.0" fill="rgb(106,106,106)"/>
<ellipse cx="1033.0" cy="592.0" rx="7.0" ry="11.0" fill="rgb(106,106,106)"/>
<ellipse cx="1036.0" cy="556.0" rx="6.0" ry="7.0" fill="rgb(106,106,106)"/>
<ellipse cx="1189.0" cy="602.0" rx="8.0" ry="20.0" fill="rgb(106,106,106)" transform="rotate(15 1189.0 602.0)"/>
<ellipse cx="1191.0" cy="640.0" rx="8.0" ry="16.0" fill="rgb(106,106,106)"/>
<ellipse cx="1184.0" cy="668.0" rx="9.0" ry="10.0" fill="rgb(106,106,106)"/>
<ellipse cx="1201.0" cy="567.0" rx="7.0" ry="8.0" fill="rgb(106,106,106)" transform="rotate(30 1201.0 567.0)"/>
<ellipse cx="236.0" cy="308.0" rx="5.6" ry="7.6" fill="rgb(104,104,104)"/>
<ellipse cx="219.0" cy="336.0" rx="5.6" ry="5.6" fill="rgb(104,104,104)"/>
<ellipse cx="188.0" cy="358.0" rx="3.6" ry="3.6" fill="rgb(104,104,104)"/>
<ellipse cx="288.0" cy="398.0" rx="5.6" ry="5.6" fill="rgb(104,104,104)"/>
<ellipse cx="378.0" cy="396.0" rx="7.6" ry="4.6" fill="rgb(104,104,104)"/>
<ellipse cx="330.0" cy="362.0" rx="3.6" ry="3.6" fill="rgb(104,104,104)"/>
<ellipse cx="256.0" cy="456.0" rx="7.6" ry="5.6" fill="rgb(104,104,104)"/>
<ellipse cx="332.0" cy="454.0" rx="3.6" ry="7.6" fill="rgb(104,104,104)"/>
<ellipse cx="380.0" cy="422.0" rx="5.6" ry="5.6" fill="rgb(104,104,104)"/>
<ellipse cx="452.0" cy="310.0" rx="4.6" ry="4.6" fill="rgb(104,104,104)"/>
<ellipse cx="540.0" cy="300.0" rx="3.6" ry="7.6" fill="rgb(104,104,104)"/>
<ellipse cx="590.0" cy="300.0" rx="3.6" ry="3.6" fill="rgb(104,104,104)"/>
<ellipse cx="560.0" cy="350.0" rx="4.6" ry="7.6" fill="rgb(104,104,104)"/>
<ellipse cx="470.0" cy="370.0" rx="3.6" ry="9.6" fill="rgb(104,104,104)"/>
<ellipse cx="545.0" cy="390.0" rx="4.6" ry="5.6" fill="rgb(104,104,104)"/>
<ellipse cx="690.0" cy="350.0" rx="5.6" ry="4.6" fill="rgb(104,104,104)"/>
<ellipse cx="660.0" cy="330.0" rx="4.6" ry="3.6" fill="rgb(104,104,104)"/>
<ellipse cx="470.0" cy="445.0" rx="2.6" ry="9.6" fill="rgb(104,104,104)"/>
<ellipse cx="700.0" cy="420.0" rx="4.6" ry="3.6" fill="rgb(104,104,104)"/>
<ellipse cx="640.0" cy="470.0" rx="4.6" ry="4.6" fill="rgb(104,104,104)"/>
<ellipse cx="575.0" cy="465.0" rx="4.6" ry="4.6" fill="rgb(104,104,104)"/>
<ellipse cx="746.0" cy="338.0" rx="3.6" ry="3.6" fill="rgb(104,104,104)"/>
<ellipse cx="763.0" cy="356.0" rx="3.6" ry="5.6" fill="rgb(104,104,104)"/>
<ellipse cx="888.0" cy="354.0" rx="3.6" ry="3.6" fill="rgb(104,104,104)"/>
<ellipse cx="890.0" cy="324.0" rx="3.6" ry="4.6" fill="rgb(104,104,104)"/>
<ellipse cx="920.0" cy="424.0" rx="4.6" ry="7.6" fill="rgb(104,104,104)"/>
<ellipse cx="718.0" cy="422.0" rx="2.6" ry="2.6" fill="rgb(104,104,104)"/>
<ellipse cx="740.0" cy="300.0" rx="4.6" ry="4.6" fill="rgb(104,104,104)"/>
<ellipse cx="850.0" cy="330.0" rx="3.6" ry="5.6" fill="rgb(104,104,104)"/>
<ellipse cx="800.0" cy="400.0" rx="5.6" ry="4.6" fill="rgb(104,104,104)"/>
<ellipse cx="855.0" cy="400.0" rx="3.6" ry="5.6" fill="rgb(104,104,104)"/>
<ellipse cx="1126.0" cy="294.0" rx="3.6" ry="3.6" fill="rgb(104,104,104)"/>
<ellipse cx="1030.0" cy="352.0" rx="3.6" ry="3.6" fill="rgb(104,104,104)"/>
<ellipse cx="1205.0" cy="320.0" rx="3.6" ry="7.6" fill="rgb(104,104,104)"/>
<ellipse cx="1150.0" cy="300.0" rx="4.6" ry="3.6" fill="rgb(104,104,104)"/>
<ellipse cx="1076.0" cy="440.0" rx="3.6" ry="9.6" fill="rgb(104,104,104)"/>
<ellipse cx="1030.0" cy="440.0" rx="3.6" ry="4.6" fill="rgb(104,104,104)"/>
<ellipse cx="1070.0" cy="470.0" rx="3.6" ry="4.6" fill="rgb(104,104,104)"/>
<ellipse cx="1000.0" cy="450.0" rx="4.6" ry="4.6" fill="rgb(104,104,104)"/>
<ellipse cx="380.0" cy="608.0" rx="5.6" ry="5.6" fill="rgb(104,104,104)"/>
<ellipse cx="434.0" cy="576.0" rx="3.6" ry="5.6" fill="rgb(104,104,104)"/>
<ellipse cx="226.0" cy="498.0" rx="7.6" ry="7.6" fill="rgb(104,104,104)"/>
<ellipse cx="442.0" cy="528.0" rx="3.6" ry="5.6" fill="rgb(104,104,104)"/>
<ellipse cx="182.0" cy="642.0" rx="3.6" ry="5.6" fill="rgb(104,104,104)"/>
<ellipse cx="262.0" cy="624.0" rx="4.6" ry="3.6" fill="rgb(104,104,104)"/>
<ellipse cx="205.0" cy="560.0" rx="3.6" ry="3.6" fill="rgb(104,104,104)"/>
<ellipse cx="290.0" cy="556.0" rx="3.6" ry="3.6" fill="rgb(104,104,104)"/>
<ellipse cx="654.0" cy="507.0" rx="5.6" ry="4.6" fill="rgb(104,104,104)"/>
<ellipse cx="550.0" cy="596.0" rx="4.6" ry="8.6" fill="rgb(104,104,104)"/>
<ellipse cx="572.0" cy="618.0" rx="7.6" ry="7.6" fill="rgb(104,104,104)"/>
<ellipse cx="630.0" cy="590.0" rx="4.6" ry="4.6" fill="rgb(104,104,104)"/>
<ellipse cx="614.0" cy="578.0" rx="4.6" ry="3.6" fill="rgb(104,104,104)"/>
<ellipse cx="700.0" cy="622.0" rx="5.6" ry="5.6" fill="rgb(104,104,104)"/>
<ellipse cx="458.0" cy="494.0" rx="9.6" ry="3.6" fill="rgb(104,104,104)"/>
<ellipse cx="466.0" cy="660.0" rx="2.6" ry="3.6" fill="rgb(104,104,104)"/>
<ellipse cx="470.0" cy="530.0" rx="3.6" ry="5.6" fill="rgb(104,104,104)"/>
<ellipse cx="700.0" cy="500.0" rx="3.6" ry="5.6" fill="rgb(104,104,104)"/>
<ellipse cx="770.0" cy="501.0" rx="5.6" ry="4.6" fill="rgb(104,104,104)"/>
<ellipse cx="740.0" cy="650.0" rx="3.6" ry="5.6" fill="rgb(104,104,104)"/>
<ellipse cx="916.0" cy="602.0" rx="5.6" ry="4.6" fill="rgb(104,104,104)"/>
<ellipse cx="926.0" cy="539.0" rx="7.6" ry="3.6" fill="rgb(104,104,104)"/>
<ellipse cx="790.0" cy="668.0" rx="3.6" ry="5.6" fill="rgb(104,104,104)"/>
<ellipse cx="840.0" cy="600.0" rx="3.6" ry="5.6" fill="rgb(104,104,104)"/>
<ellipse cx="824.0" cy="620.0" rx="4.6" ry="4.6" fill="rgb(104,104,104)"/>
<ellipse cx="1096.0" cy="512.0" rx="3.6" ry="3.6" fill="rgb(104,104,104)"/>
<ellipse cx="990.0" cy="614.0" rx="5.6" ry="7.6" fill="rgb(104,104,104)"/>
<ellipse cx="978.0" cy="594.0" rx="5.6" ry="5.6" fill="rgb(104,104,104)"/>
<ellipse cx="1205.0" cy="512.0" rx="3.6" ry="4.6" fill="rgb(104,104,104)"/>
<ellipse cx="1074.0" cy="642.0" rx="2.6" ry="9.6" fill="rgb(104,104,104)"/>
<ellipse cx="1174.0" cy="654.0" rx="2.6" ry="5.6" fill="rgb(104,104,104)"/>
<ellipse cx="1160.0" cy="600.0" rx="4.6" ry="7.6" fill="rgb(104,104,104)"/>
<ellipse cx="1000.0" cy="670.0" rx="4.6" ry="4.6" fill="rgb(104,104,104)"/>
<ellipse cx="1140.0" cy="660.0" rx="4.6" ry="5.6" fill="rgb(104,104,104)"/>
<ellipse cx="267.0" cy="312.0" rx="8.8" ry="12.8" fill="rgb(152,152,152)" transform="rotate(20 267.0 312.0)"/>
<ellipse cx="272.0" cy="300.0" rx="9.8" ry="11.8" fill="rgb(152,152,152)"/>
<ellipse cx="218.0" cy="358.0" rx="7.8" ry="10.8" fill="rgb(152,152,152)"/>
<ellipse cx="190.0" cy="378.0" rx="6.8" ry="8.8" fill="rgb(152,152,152)"/>
<ellipse cx="277.0" cy="362.0" rx="4.8" ry="9.8" fill="rgb(152,152,152)" transform="rotate(-10 277.0 362.0)"/>
<ellipse cx="321.0" cy="350.0" rx="7.8" ry="14.8" fill="rgb(152,152,152)"/>
<ellipse cx="316.0" cy="368.0" rx="5.8" ry="8.8" fill="rgb(152,152,152)"/>
<ellipse cx="299.0" cy="481.0" rx="4.8" ry="5.8" fill="rgb(152,152,152)"/>
<ellipse cx="525.0" cy="298.0" rx="5.8" ry="8.8" fill="rgb(152,152,152)"/>
<ellipse cx="687.0" cy="308.0" rx="7.8" ry="20.8" fill="rgb(152,152,152)"/>
<ellipse cx="626.0" cy="338.0" rx="5.8" ry="5.8" fill="rgb(152,152,152)"/>
<ellipse cx="615.0" cy="356.0" rx="4.8" ry="9.8" fill="rgb(152,152,152)" transform="rotate(35 615.0 356.0)"/>
<ellipse cx="597.0" cy="440.0" rx="5.3" ry="6.8" fill="rgb(152,152,152)"/>
<ellipse cx="762.0" cy="298.0" rx="5.8" ry="10.8" fill="rgb(152,152,152)" transform="rotate(30 762.0 298.0)"/>
<ellipse cx="721.0" cy="339.0" rx="5.8" ry="8.8" fill="rgb(152,152,152)"/>
<ellipse cx="925.0" cy="362.0" rx="6.3" ry="8.8" fill="rgb(152,152,152)"/>
<ellipse cx="960.0" cy="389.0" rx="5.3" ry="7.8" fill="rgb(152,152,152)"/>
<ellipse cx="909.0" cy="442.0" rx="4.3" ry="9.8" fill="rgb(152,152,152)"/>
<ellipse cx="998.0" cy="344.0" rx="5.3" ry="8.8" fill="rgb(152,152,152)"/>
<ellipse cx="1110.0" cy="392.0" rx="6.8" ry="11.8" fill="rgb(152,152,152)"/>
<ellipse cx="1106.0" cy="370.0" rx="3.8" ry="9.8" fill="rgb(152,152,152)"/>
<ellipse cx="1117.0" cy="412.0" rx="4.8" ry="6.8" fill="rgb(152,152,152)"/>
<ellipse cx="1049.0" cy="452.0" rx="7.3" ry="21.8" fill="rgb(152,152,152)"/>
<ellipse cx="1046.0" cy="464.0" rx="8.8" ry="10.8" fill="rgb(152,152,152)"/>
<ellipse cx="1152.0" cy="474.0" rx="4.3" ry="10.8" fill="rgb(152,152,152)"/>
<ellipse cx="994.0" cy="422.0" rx="4.8" ry="10.8" fill="rgb(152,152,152)" transform="rotate(-20 994.0 422.0)"/>
<ellipse cx="253.0" cy="538.0" rx="6.8" ry="14.8" fill="rgb(152,152,152)"/>
<ellipse cx="247.0" cy="556.0" rx="5.8" ry="7.8" fill="rgb(152,152,152)" transform="rotate(20 247.0 556.0)"/>
<ellipse cx="980.0" cy="561.0" rx="6.8" ry="8.8" fill="rgb(152,152,152)" transform="rotate(-30 980.0 561.0)"/>
<ellipse cx="814.0" cy="529.0" rx="6.8" ry="7.8" fill="rgb(152,152,152)"/>
<ellipse cx="938.0" cy="512.0" rx="5.8" ry="9.8" fill="rgb(152,152,152)" transform="rotate(25 938.0 512.0)"/>
<ellipse cx="1134.0" cy="550.0" rx="11.8" ry="13.8" fill="rgb(152,152,152)"/>
<ellipse cx="1157.0" cy="558.0" rx="10.3" ry="16.8" fill="rgb(152,152,152)"/>
<ellipse cx="1146.0" cy="574.0" rx="12.8" ry="13.8" fill="rgb(152,152,152)"/>
<ellipse cx="1144.0" cy="591.0" rx="6.8" ry="9.8" fill="rgb(152,152,152)"/>
<ellipse cx="1075.0" cy="568.0" rx="10.8" ry="12.8" fill="rgb(152,152,152)"/>
<ellipse cx="1084.0" cy="544.0" rx="4.8" ry="15.8" fill="rgb(152,152,152)" transform="rotate(10 1084.0 544.0)"/>
<ellipse cx="1014.0" cy="504.0" rx="6.8" ry="9.8" fill="rgb(152,152,152)"/>
<ellipse cx="262.0" cy="330.0" rx="6.6" ry="10.6" fill="rgb(157,157,157)" transform="rotate(10 262.0 330.0)"/>
<ellipse cx="259.0" cy="346.0" rx="4.6" ry="7.6" fill="rgb(157,157,157)"/>
<ellipse cx="348.0" cy="295.0" rx="6.6" ry="8.6" fill="rgb(157,157,157)" transform="rotate(20 348.0 295.0)"/>
<ellipse cx="386.0" cy="320.0" rx="2.6" ry="8.6" fill="rgb(157,157,157)"/>
<ellipse cx="238.0" cy="395.0" rx="2.6" ry="5.6" fill="rgb(157,157,157)"/>
<ellipse cx="407.0" cy="358.0" rx="2.1" ry="4.6" fill="rgb(157,157,157)"/>
<ellipse cx="397.0" cy="393.0" rx="3.1" ry="8.6" fill="rgb(157,157,157)"/>
<ellipse cx="674.0" cy="304.0" rx="4.6" ry="4.6" fill="rgb(157,157,157)"/>
<ellipse cx="654.0" cy="322.0" rx="5.6" ry="2.6" fill="rgb(157,157,157)"/>
<ellipse cx="519.0" cy="382.0" rx="9.6" ry="4.6" fill="rgb(157,157,157)" transform="rotate(-40 519.0 382.0)"/>
<ellipse cx="576.0" cy="383.0" rx="2.6" ry="6.6" fill="rgb(157,157,157)"/>
<ellipse cx="674.0" cy="396.0" rx="6.6" ry="3.6" fill="rgb(157,157,157)" transform="rotate(-30 674.0 396.0)"/>
<ellipse cx="491.0" cy="413.0" rx="2.6" ry="6.6" fill="rgb(157,157,157)"/>
<ellipse cx="460.0" cy="420.0" rx="2.1" ry="6.6" fill="rgb(157,157,157)"/>
<ellipse cx="563.0" cy="420.0" rx="3.1" ry="10.6" fill="rgb(157,157,157)" transform="rotate(10 563.0 420.0)"/>
<ellipse cx="925.0" cy="334.0" rx="2.6" ry="3.6" fill="rgb(157,157,157)"/>
<ellipse cx="749.0" cy="412.0" rx="3.6" ry="6.6" fill="rgb(157,157,157)"/>
<ellipse cx="1051.0" cy="355.0" rx="5.6" ry="5.6" fill="rgb(157,157,157)"/>
<ellipse cx="1122.0" cy="454.0" rx="6.6" ry="3.6" fill="rgb(157,157,157)" transform="rotate(20 1122.0 454.0)"/>
<ellipse cx="988.0" cy="476.0" rx="2.6" ry="5.6" fill="rgb(157,157,157)"/>
<ellipse cx="1199.0" cy="407.0" rx="5.6" ry="3.6" fill="rgb(157,157,157)"/>
<ellipse cx="1186.0" cy="476.0" rx="2.6" ry="4.6" fill="rgb(157,157,157)"/>
<ellipse cx="243.0" cy="567.0" rx="3.6" ry="5.6" fill="rgb(157,157,157)" transform="rotate(25 243.0 567.0)"/>
<ellipse cx="802.0" cy="534.0" rx="7.6" ry="1.6" fill="rgb(157,157,157)"/>
<ellipse cx="913.0" cy="496.0" rx="3.6" ry="3.6" fill="rgb(157,157,157)"/>
<ellipse cx="956.0" cy="660.0" rx="2.6" ry="2.6" fill="rgb(157,157,157)"/>
<ellipse cx="1024.0" cy="535.0" rx="2.6" ry="3.6" fill="rgb(157,157,157)"/>
<ellipse cx="1098.0" cy="609.0" rx="6.1" ry="10.6" fill="rgb(157,157,157)" transform="rotate(-10 1098.0 609.0)"/>
<ellipse cx="1060.0" cy="595.0" rx="4.6" ry="4.6" fill="rgb(157,157,157)"/>
<ellipse cx="1202.0" cy="540.0" rx="3.6" ry="6.6" fill="rgb(157,157,157)" transform="rotate(25 1202.0 540.0)"/>
<ellipse cx="1135.0" cy="496.0" rx="1.6" ry="3.6" fill="rgb(157,157,157)"/>
<ellipse cx="1150.0" cy="484.0" rx="2.6" ry="2.6" fill="rgb(157,157,157)"/>
<ellipse cx="1186.0" cy="485.0" rx="2.6" ry="3.6" fill="rgb(157,157,157)"/>
<ellipse cx="1205.0" cy="494.0" rx="2.6" ry="5.6" fill="rgb(157,157,157)"/>
<ellipse cx="1048.0" cy="488.0" rx="1.6" ry="5.6" fill="rgb(157,157,157)"/>
<ellipse cx="990.0" cy="486.0" rx="1.6" ry="3.6" fill="rgb(157,157,157)"/>
<ellipse cx="1211.0" cy="568.0" rx="2.6" ry="3.6" fill="rgb(157,157,157)"/>
<ellipse cx="292.0" cy="316.0" rx="3.8" ry="7.8" fill="rgb(96,96,96)"/>
<ellipse cx="310.0" cy="294.0" rx="4.8" ry="3.8" fill="rgb(96,96,96)"/>
<ellipse cx="404.0" cy="306.0" rx="2.8" ry="5.8" fill="rgb(96,96,96)"/>
<ellipse cx="224.0" cy="385.0" rx="2.8" ry="4.8" fill="rgb(96,96,96)"/>
<ellipse cx="191.0" cy="450.0" rx="3.8" ry="7.8" fill="rgb(96,96,96)"/>
<ellipse cx="238.0" cy="414.0" rx="4.8" ry="3.8" fill="rgb(96,96,96)"/>
<ellipse cx="554.0" cy="318.0" rx="3.8" ry="8.8" fill="rgb(96,96,96)"/>
<ellipse cx="476.0" cy="338.0" rx="3.8" ry="9.8" fill="rgb(96,96,96)"/>
<ellipse cx="649.0" cy="362.0" rx="3.3" ry="7.8" fill="rgb(96,96,96)"/>
<ellipse cx="608.0" cy="388.0" rx="2.8" ry="7.8" fill="rgb(96,96,96)"/>
<ellipse cx="630.0" cy="398.0" rx="3.8" ry="4.8" fill="rgb(96,96,96)"/>
<ellipse cx="607.0" cy="416.0" rx="5.8" ry="3.3" fill="rgb(96,96,96)" transform="rotate(-30 607.0 416.0)"/>
<ellipse cx="476.0" cy="400.0" rx="2.8" ry="4.8" fill="rgb(96,96,96)"/>
<ellipse cx="620.0" cy="442.0" rx="3.8" ry="5.8" fill="rgb(96,96,96)"/>
<ellipse cx="885.0" cy="302.0" rx="2.8" ry="5.8" fill="rgb(96,96,96)"/>
<ellipse cx="971.0" cy="341.0" rx="3.8" ry="4.8" fill="rgb(96,96,96)"/>
<ellipse cx="945.0" cy="387.0" rx="3.8" ry="4.8" fill="rgb(96,96,96)" transform="rotate(30 945.0 387.0)"/>
<ellipse cx="918.0" cy="392.0" rx="2.3" ry="6.8" fill="rgb(96,96,96)" transform="rotate(20 918.0 392.0)"/>
<ellipse cx="941.0" cy="412.0" rx="3.8" ry="7.8" fill="rgb(96,96,96)" transform="rotate(-15 941.0 412.0)"/>
<ellipse cx="950.0" cy="434.0" rx="3.8" ry="9.8" fill="rgb(96,96,96)" transform="rotate(-20 950.0 434.0)"/>
<ellipse cx="961.0" cy="453.0" rx="3.8" ry="5.8" fill="rgb(96,96,96)" transform="rotate(-30 961.0 453.0)"/>
<ellipse cx="887.0" cy="449.0" rx="3.8" ry="4.8" fill="rgb(96,96,96)"/>
<ellipse cx="914.0" cy="472.0" rx="2.8" ry="5.8" fill="rgb(96,96,96)"/>
<ellipse cx="974.0" cy="476.0" rx="3.8" ry="5.8" fill="rgb(96,96,96)"/>
<ellipse cx="1124.0" cy="476.0" rx="5.8" ry="3.8" fill="rgb(96,96,96)"/>
<ellipse cx="1164.0" cy="470.0" rx="4.8" ry="5.8" fill="rgb(96,96,96)"/>
<ellipse cx="1018.0" cy="432.0" rx="2.8" ry="2.8" fill="rgb(96,96,96)"/>
<ellipse cx="1084.0" cy="366.0" rx="3.8" ry="4.8" fill="rgb(96,96,96)"/>
<ellipse cx="1008.0" cy="418.0" rx="2.8" ry="4.8" fill="rgb(96,96,96)"/>
<ellipse cx="227.0" cy="598.0" rx="4.3" ry="8.8" fill="rgb(96,96,96)"/>
<ellipse cx="436.0" cy="506.0" rx="9.8" ry="3.8" fill="rgb(96,96,96)" transform="rotate(-35 436.0 506.0)"/>
<ellipse cx="222.0" cy="520.0" rx="3.8" ry="4.8" fill="rgb(96,96,96)"/>
<ellipse cx="589.0" cy="518.0" rx="21.8" ry="3.3" fill="rgb(96,96,96)" transform="rotate(-28 589.0 518.0)"/>
<ellipse cx="564.0" cy="566.0" rx="2.3" ry="7.8" fill="rgb(96,96,96)"/>
<ellipse cx="674.0" cy="547.0" rx="4.8" ry="4.8" fill="rgb(96,96,96)"/>
<ellipse cx="838.0" cy="516.0" rx="7.8" ry="15.8" fill="rgb(96,96,96)"/>
<ellipse cx="774.0" cy="535.0" rx="1.8" ry="2.8" fill="rgb(96,96,96)"/>
<ellipse cx="892.0" cy="497.0" rx="6.8" ry="7.8" fill="rgb(96,96,96)"/>
<ellipse cx="874.0" cy="570.0" rx="9.8" ry="10.8" fill="rgb(96,96,96)"/>
<ellipse cx="882.0" cy="590.0" rx="5.8" ry="5.8" fill="rgb(96,96,96)"/>
<ellipse cx="930.0" cy="498.0" rx="1.8" ry="4.8" fill="rgb(96,96,96)"/>
<ellipse cx="922.0" cy="642.0" rx="2.8" ry="5.8" fill="rgb(96,96,96)"/>
<ellipse cx="868.0" cy="666.0" rx="2.8" ry="7.8" fill="rgb(96,96,96)"/>
<ellipse cx="1028.0" cy="570.0" rx="13.8" ry="17.8" fill="rgb(96,96,96)"/>
<ellipse cx="1032.0" cy="598.0" rx="7.8" ry="9.8" fill="rgb(96,96,96)"/>
<ellipse cx="1020.0" cy="556.0" rx="6.8" ry="6.8" fill="rgb(96,96,96)"/>
<ellipse cx="1042.0" cy="629.0" rx="4.8" ry="4.8" fill="rgb(96,96,96)"/>
<ellipse cx="1023.0" cy="648.0" rx="3.8" ry="7.8" fill="rgb(96,96,96)" transform="rotate(25 1023.0 648.0)"/>
<ellipse cx="1112.0" cy="668.0" rx="3.8" ry="9.8" fill="rgb(96,96,96)"/>
<ellipse cx="1214.0" cy="546.0" rx="2.8" ry="4.8" fill="rgb(96,96,96)"/>
<ellipse cx="1033.0" cy="508.0" rx="2.8" ry="5.8" fill="rgb(96,96,96)"/>
<ellipse cx="1143.0" cy="494.0" rx="1.3" ry="4.8" fill="rgb(96,96,96)"/>
<ellipse cx="1019.0" cy="485.0" rx="1.8" ry="2.8" fill="rgb(96,96,96)"/>
<ellipse cx="273.0" cy="294.0" rx="8.3" ry="11.8" fill="rgb(159,159,159)"/>
<ellipse cx="324.0" cy="347.0" rx="4.8" ry="8.8" fill="rgb(159,159,159)"/>
<ellipse cx="283.0" cy="376.0" rx="6.3" ry="11.8" fill="rgb(159,159,159)"/>
<ellipse cx="1006.0" cy="319.0" rx="4.3" ry="6.8" fill="rgb(159,159,159)"/>
<ellipse cx="1110.0" cy="394.0" rx="5.8" ry="8.8" fill="rgb(159,159,159)"/>
<ellipse cx="282.0" cy="510.0" rx="8.3" ry="15.8" fill="rgb(159,159,159)"/>
<ellipse cx="299.6" cy="494.0" rx="4.8" ry="13.8" fill="rgb(159,159,159)"/>
<ellipse cx="253.0" cy="530.0" rx="5.8" ry="10.8" fill="rgb(159,159,159)"/>
<ellipse cx="963.0" cy="547.0" rx="6.8" ry="10.8" fill="rgb(159,159,159)"/>
<ellipse cx="1134.0" cy="549.0" rx="8.8" ry="11.8" fill="rgb(159,159,159)"/>
<ellipse cx="1157.0" cy="562.0" rx="7.3" ry="12.8" fill="rgb(159,159,159)"/>
<ellipse cx="1145.0" cy="574.0" rx="7.8" ry="8.8" fill="rgb(159,159,159)"/>
<ellipse cx="267.0" cy="312.0" rx="7.6" ry="11.6" fill="rgb(164,164,164)" transform="rotate(20 267.0 312.0)"/>
<ellipse cx="272.0" cy="300.0" rx="8.6" ry="10.6" fill="rgb(164,164,164)"/>
<ellipse cx="218.0" cy="358.0" rx="6.6" ry="9.6" fill="rgb(164,164,164)"/>
<ellipse cx="190.0" cy="378.0" rx="5.6" ry="7.6" fill="rgb(164,164,164)"/>
<ellipse cx="277.0" cy="362.0" rx="3.6" ry="8.6" fill="rgb(164,164,164)" transform="rotate(-10 277.0 362.0)"/>
<ellipse cx="321.0" cy="350.0" rx="6.6" ry="13.6" fill="rgb(164,164,164)"/>
<ellipse cx="316.0" cy="368.0" rx="4.6" ry="7.6" fill="rgb(164,164,164)"/>
<ellipse cx="299.0" cy="481.0" rx="3.6" ry="4.6" fill="rgb(164,164,164)"/>
<ellipse cx="525.0" cy="298.0" rx="4.6" ry="7.6" fill="rgb(164,164,164)"/>
<ellipse cx="687.0" cy="308.0" rx="6.6" ry="19.6" fill="rgb(164,164,164)"/>
<ellipse cx="626.0" cy="338.0" rx="4.6" ry="4.6" fill="rgb(164,164,164)"/>
<ellipse cx="615.0" cy="356.0" rx="3.6" ry="8.6" fill="rgb(164,164,164)" transform="rotate(35 615.0 356.0)"/>
<ellipse cx="597.0" cy="440.0" rx="4.1" ry="5.6" fill="rgb(164,164,164)"/>
<ellipse cx="762.0" cy="298.0" rx="4.6" ry="9.6" fill="rgb(164,164,164)" transform="rotate(30 762.0 298.0)"/>
<ellipse cx="721.0" cy="339.0" rx="4.6" ry="7.6" fill="rgb(164,164,164)"/>
<ellipse cx="925.0" cy="362.0" rx="5.1" ry="7.6" fill="rgb(164,164,164)"/>
<ellipse cx="960.0" cy="389.0" rx="4.1" ry="6.6" fill="rgb(164,164,164)"/>
<ellipse cx="909.0" cy="442.0" rx="3.1" ry="8.6" fill="rgb(164,164,164)"/>
<ellipse cx="998.0" cy="344.0" rx="4.1" ry="7.6" fill="rgb(164,164,164)"/>
<ellipse cx="1110.0" cy="392.0" rx="5.6" ry="10.6" fill="rgb(164,164,164)"/>
<ellipse cx="1106.0" cy="370.0" rx="2.6" ry="8.6" fill="rgb(164,164,164)"/>
<ellipse cx="1117.0" cy="412.0" rx="3.6" ry="5.6" fill="rgb(164,164,164)"/>
<ellipse cx="1049.0" cy="452.0" rx="6.1" ry="20.6" fill="rgb(164,164,164)"/>
<ellipse cx="1046.0" cy="464.0" rx="7.6" ry="9.6" fill="rgb(164,164,164)"/>
<ellipse cx="1152.0" cy="474.0" rx="3.1" ry="9.6" fill="rgb(164,164,164)"/>
<ellipse cx="994.0" cy="422.0" rx="3.6" ry="9.6" fill="rgb(164,164,164)" transform="rotate(-20 994.0 422.0)"/>
<ellipse cx="253.0" cy="538.0" rx="5.6" ry="13.6" fill="rgb(164,164,164)"/>
<ellipse cx="247.0" cy="556.0" rx="4.6" ry="6.6" fill="rgb(164,164,164)" transform="rotate(20 247.0 556.0)"/>
<ellipse cx="980.0" cy="561.0" rx="5.6" ry="7.6" fill="rgb(164,164,164)" transform="rotate(-30 980.0 561.0)"/>
<ellipse cx="814.0" cy="529.0" rx="5.6" ry="6.6" fill="rgb(164,164,164)"/>
<ellipse cx="938.0" cy="512.0" rx="4.6" ry="8.6" fill="rgb(164,164,164)" transform="rotate(25 938.0 512.0)"/>
<ellipse cx="1134.0" cy="550.0" rx="10.6" ry="12.6" fill="rgb(164,164,164)"/>
<ellipse cx="1157.0" cy="558.0" rx="9.1" ry="15.6" fill="rgb(164,164,164)"/>
<ellipse cx="1146.0" cy="574.0" rx="11.6" ry="12.6" fill="rgb(164,164,164)"/>
<ellipse cx="1144.0" cy="591.0" rx="5.6" ry="8.6" fill="rgb(164,164,164)"/>
<ellipse cx="1075.0" cy="568.0" rx="9.6" ry="11.6" fill="rgb(164,164,164)"/>
<ellipse cx="1084.0" cy="544.0" rx="3.6" ry="14.6" fill="rgb(164,164,164)" transform="rotate(10 1084.0 544.0)"/>
<ellipse cx="1014.0" cy="504.0" rx="5.6" ry="8.6" fill="rgb(164,164,164)"/>
<ellipse cx="251.6" cy="372.0" rx="5.5" ry="17.0" fill="rgb(90,90,90)"/>
<ellipse cx="456.0" cy="386.0" rx="7.0" ry="10.0" fill="rgb(90,90,90)" transform="rotate(-10 456.0 386.0)"/>
<ellipse cx="505.0" cy="416.0" rx="7.0" ry="13.0" fill="rgb(90,90,90)"/>
<ellipse cx="256.0" cy="507.0" rx="9.5" ry="19.0" fill="rgb(90,90,90)" transform="rotate(-35 256.0 507.0)"/>
<ellipse cx="235.0" cy="529.0" rx="7.0" ry="13.0" fill="rgb(90,90,90)" transform="rotate(10 235.0 529.0)"/>
<ellipse cx="230.0" cy="560.0" rx="6.0" ry="10.0" fill="rgb(90,90,90)" transform="rotate(15 230.0 560.0)"/>
<ellipse cx="943.0" cy="557.0" rx="7.5" ry="15.0" fill="rgb(90,90,90)" transform="rotate(35 943.0 557.0)"/>
<ellipse cx="872.0" cy="531.0" rx="8.0" ry="12.0" fill="rgb(90,90,90)"/>
<ellipse cx="1068.0" cy="541.0" rx="7.5" ry="13.0" fill="rgb(90,90,90)"/>
<ellipse cx="1197.0" cy="585.0" rx="11.0" ry="16.0" fill="rgb(90,90,90)" transform="rotate(28 1197.0 585.0)"/>
<ellipse cx="1191.0" cy="616.0" rx="11.0" ry="20.0" fill="rgb(90,90,90)" transform="rotate(-5 1191.0 616.0)"/>
<ellipse cx="1198.0" cy="643.0" rx="10.0" ry="18.0" fill="rgb(90,90,90)" transform="rotate(-12 1198.0 643.0)"/>
<ellipse cx="1208.0" cy="668.0" rx="21.0" ry="13.0" fill="rgb(90,90,90)"/>
<ellipse cx="1190.0" cy="664.0" rx="9.0" ry="11.0" fill="rgb(90,90,90)"/>
<ellipse cx="191.0" cy="300.0" rx="5.8" ry="5.8" fill="rgb(88,88,88)"/>
<ellipse cx="326.0" cy="317.0" rx="5.3" ry="8.8" fill="rgb(88,88,88)"/>
<ellipse cx="297.0" cy="344.0" rx="4.8" ry="10.8" fill="rgb(88,88,88)" transform="rotate(15 297.0 344.0)"/>
<ellipse cx="263.0" cy="383.0" rx="5.8" ry="4.8" fill="rgb(88,88,88)"/>
<ellipse cx="414.0" cy="390.0" rx="3.8" ry="4.8" fill="rgb(88,88,88)"/>
<ellipse cx="438.0" cy="370.0" rx="5.8" ry="5.8" fill="rgb(88,88,88)" transform="rotate(30 438.0 370.0)"/>
<ellipse cx="706.0" cy="329.0" rx="3.8" ry="4.8" fill="rgb(88,88,88)"/>
<ellipse cx="505.0" cy="372.0" rx="3.8" ry="7.8" fill="rgb(88,88,88)" transform="rotate(10 505.0 372.0)"/>
<ellipse cx="583.0" cy="437.0" rx="5.8" ry="11.8" fill="rgb(88,88,88)" transform="rotate(-10 583.0 437.0)"/>
<ellipse cx="651.0" cy="448.0" rx="4.3" ry="7.8" fill="rgb(88,88,88)"/>
<ellipse cx="724.0" cy="310.0" rx="4.8" ry="8.8" fill="rgb(88,88,88)"/>
<ellipse cx="952.0" cy="358.0" rx="4.8" ry="8.8" fill="rgb(88,88,88)"/>
<ellipse cx="796.0" cy="454.0" rx="6.8" ry="10.8" fill="rgb(88,88,88)" transform="rotate(-5 796.0 454.0)"/>
<ellipse cx="1003.0" cy="380.0" rx="4.3" ry="11.8" fill="rgb(88,88,88)"/>
<ellipse cx="1004.0" cy="402.0" rx="4.3" ry="11.8" fill="rgb(88,88,88)" transform="rotate(-5 1004.0 402.0)"/>
<ellipse cx="1003.0" cy="391.0" rx="3.8" ry="19.8" fill="rgb(88,88,88)"/>
<ellipse cx="1054.0" cy="392.0" rx="14.8" ry="4.8" fill="rgb(88,88,88)" transform="rotate(-40 1054.0 392.0)"/>
<ellipse cx="1091.0" cy="393.0" rx="4.3" ry="8.8" fill="rgb(88,88,88)"/>
<ellipse cx="1147.0" cy="456.0" rx="2.3" ry="7.8" fill="rgb(88,88,88)"/>
<ellipse cx="1219.0" cy="396.0" rx="2.3" ry="9.8" fill="rgb(88,88,88)"/>
<ellipse cx="1214.0" cy="417.0" rx="3.8" ry="2.8" fill="rgb(88,88,88)"/>
<ellipse cx="234.0" cy="531.0" rx="5.3" ry="13.8" fill="rgb(88,88,88)" transform="rotate(10 234.0 531.0)"/>
<ellipse cx="229.0" cy="566.0" rx="7.3" ry="13.8" fill="rgb(88,88,88)" transform="rotate(15 229.0 566.0)"/>
<ellipse cx="237.0" cy="551.0" rx="4.8" ry="4.8" fill="rgb(88,88,88)"/>
<ellipse cx="228.0" cy="586.0" rx="3.8" ry="9.8" fill="rgb(88,88,88)" transform="rotate(5 228.0 586.0)"/>
<ellipse cx="551.0" cy="544.0" rx="6.8" ry="4.8" fill="rgb(88,88,88)" transform="rotate(-20 551.0 544.0)"/>
<ellipse cx="574.0" cy="526.0" rx="4.8" ry="3.8" fill="rgb(88,88,88)"/>
<ellipse cx="866.0" cy="540.0" rx="3.8" ry="4.8" fill="rgb(88,88,88)"/>
<ellipse cx="835.0" cy="548.0" rx="3.8" ry="4.8" fill="rgb(88,88,88)"/>
<ellipse cx="799.0" cy="561.0" rx="7.8" ry="3.3" fill="rgb(88,88,88)" transform="rotate(-10 799.0 561.0)"/>
<ellipse cx="740.0" cy="516.0" rx="3.8" ry="4.8" fill="rgb(88,88,88)"/>
<ellipse cx="783.0" cy="533.0" rx="2.8" ry="2.8" fill="rgb(88,88,88)"/>
<ellipse cx="832.0" cy="518.0" rx="2.8" ry="8.8" fill="rgb(88,88,88)"/>
<ellipse cx="845.0" cy="516.0" rx="2.8" ry="8.8" fill="rgb(88,88,88)"/>
<ellipse cx="838.0" cy="503.0" rx="3.8" ry="2.8" fill="rgb(88,88,88)"/>
<ellipse cx="840.0" cy="530.0" rx="3.8" ry="2.8" fill="rgb(88,88,88)"/>
<ellipse cx="974.0" cy="486.0" rx="3.3" ry="6.8" fill="rgb(88,88,88)" transform="rotate(15 974.0 486.0)"/>
<ellipse cx="968.0" cy="502.0" rx="3.3" ry="8.8" fill="rgb(88,88,88)" transform="rotate(20 968.0 502.0)"/>
<ellipse cx="958.0" cy="518.0" rx="4.3" ry="5.8" fill="rgb(88,88,88)" transform="rotate(40 958.0 518.0)"/>
<ellipse cx="890.0" cy="495.0" rx="3.8" ry="4.8" fill="rgb(88,88,88)"/>
<ellipse cx="872.0" cy="566.0" rx="4.8" ry="5.8" fill="rgb(88,88,88)"/>
<ellipse cx="1053.0" cy="528.0" rx="4.8" ry="8.8" fill="rgb(88,88,88)" transform="rotate(30 1053.0 528.0)"/>
<ellipse cx="1114.0" cy="546.0" rx="11.8" ry="4.8" fill="rgb(88,88,88)" transform="rotate(-45 1114.0 546.0)"/>
<ellipse cx="1124.0" cy="610.0" rx="3.8" ry="11.8" fill="rgb(88,88,88)" transform="rotate(-5 1124.0 610.0)"/>
<ellipse cx="1180.0" cy="576.0" rx="2.8" ry="8.8" fill="rgb(88,88,88)" transform="rotate(10 1180.0 576.0)"/>
<ellipse cx="1025.0" cy="566.0" rx="8.8" ry="12.8" fill="rgb(88,88,88)"/>
<ellipse cx="1033.0" cy="592.0" rx="4.8" ry="8.8" fill="rgb(88,88,88)"/>
<ellipse cx="1036.0" cy="556.0" rx="3.8" ry="4.8" fill="rgb(88,88,88)"/>
<ellipse cx="1189.0" cy="602.0" rx="5.8" ry="17.8" fill="rgb(88,88,88)" transform="rotate(15 1189.0 602.0)"/>
<ellipse cx="1191.0" cy="640.0" rx="5.8" ry="13.8" fill="rgb(88,88,88)"/>
<ellipse cx="1184.0" cy="668.0" rx="6.8" ry="7.8" fill="rgb(88,88,88)"/>
<ellipse cx="1201.0" cy="567.0" rx="4.8" ry="5.8" fill="rgb(88,88,88)" transform="rotate(30 1201.0 567.0)"/>
<ellipse cx="284.0" cy="381.0" rx="5.3" ry="9.8" fill="rgb(171,171,171)"/>
<ellipse cx="285.0" cy="513.0" rx="5.3" ry="12.8" fill="rgb(171,171,171)"/>
<ellipse cx="963.0" cy="549.0" rx="4.3" ry="6.8" fill="rgb(171,171,171)"/>
<ellipse cx="267.0" cy="312.0" rx="6.6" ry="10.6" fill="rgb(173,173,173)" transform="rotate(20 267.0 312.0)"/>
<ellipse cx="272.0" cy="300.0" rx="7.6" ry="9.6" fill="rgb(173,173,173)"/>
<ellipse cx="218.0" cy="358.0" rx="5.6" ry="8.6" fill="rgb(173,173,173)"/>
<ellipse cx="190.0" cy="378.0" rx="4.6" ry="6.6" fill="rgb(173,173,173)"/>
<ellipse cx="277.0" cy="362.0" rx="2.6" ry="7.6" fill="rgb(173,173,173)" transform="rotate(-10 277.0 362.0)"/>
<ellipse cx="321.0" cy="350.0" rx="5.6" ry="12.6" fill="rgb(173,173,173)"/>
<ellipse cx="316.0" cy="368.0" rx="3.6" ry="6.6" fill="rgb(173,173,173)"/>
<ellipse cx="299.0" cy="481.0" rx="2.6" ry="3.6" fill="rgb(173,173,173)"/>
<ellipse cx="525.0" cy="298.0" rx="3.6" ry="6.6" fill="rgb(173,173,173)"/>
<ellipse cx="687.0" cy="308.0" rx="5.6" ry="18.6" fill="rgb(173,173,173)"/>
<ellipse cx="626.0" cy="338.0" rx="3.6" ry="3.6" fill="rgb(173,173,173)"/>
<ellipse cx="615.0" cy="356.0" rx="2.6" ry="7.6" fill="rgb(173,173,173)" transform="rotate(35 615.0 356.0)"/>
<ellipse cx="597.0" cy="440.0" rx="3.1" ry="4.6" fill="rgb(173,173,173)"/>
<ellipse cx="762.0" cy="298.0" rx="3.6" ry="8.6" fill="rgb(173,173,173)" transform="rotate(30 762.0 298.0)"/>
<ellipse cx="721.0" cy="339.0" rx="3.6" ry="6.6" fill="rgb(173,173,173)"/>
<ellipse cx="925.0" cy="362.0" rx="4.1" ry="6.6" fill="rgb(173,173,173)"/>
<ellipse cx="960.0" cy="389.0" rx="3.1" ry="5.6" fill="rgb(173,173,173)"/>
<ellipse cx="909.0" cy="442.0" rx="2.1" ry="7.6" fill="rgb(173,173,173)"/>
<ellipse cx="998.0" cy="344.0" rx="3.1" ry="6.6" fill="rgb(173,173,173)"/>
<ellipse cx="1110.0" cy="392.0" rx="4.6" ry="9.6" fill="rgb(173,173,173)"/>
<ellipse cx="1106.0" cy="370.0" rx="1.6" ry="7.6" fill="rgb(173,173,173)"/>
<ellipse cx="1117.0" cy="412.0" rx="2.6" ry="4.6" fill="rgb(173,173,173)"/>
<ellipse cx="1049.0" cy="452.0" rx="5.1" ry="19.6" fill="rgb(173,173,173)"/>
<ellipse cx="1046.0" cy="464.0" rx="6.6" ry="8.6" fill="rgb(173,173,173)"/>
<ellipse cx="1152.0" cy="474.0" rx="2.1" ry="8.6" fill="rgb(173,173,173)"/>
<ellipse cx="994.0" cy="422.0" rx="2.6" ry="8.6" fill="rgb(173,173,173)" transform="rotate(-20 994.0 422.0)"/>
<ellipse cx="253.0" cy="538.0" rx="4.6" ry="12.6" fill="rgb(173,173,173)"/>
<ellipse cx="247.0" cy="556.0" rx="3.6" ry="5.6" fill="rgb(173,173,173)" transform="rotate(20 247.0 556.0)"/>
<ellipse cx="980.0" cy="561.0" rx="4.6" ry="6.6" fill="rgb(173,173,173)" transform="rotate(-30 980.0 561.0)"/>
<ellipse cx="814.0" cy="529.0" rx="4.6" ry="5.6" fill="rgb(173,173,173)"/>
<ellipse cx="938.0" cy="512.0" rx="3.6" ry="7.6" fill="rgb(173,173,173)" transform="rotate(25 938.0 512.0)"/>
<ellipse cx="1134.0" cy="550.0" rx="9.6" ry="11.6" fill="rgb(173,173,173)"/>
<ellipse cx="1157.0" cy="558.0" rx="8.1" ry="14.6" fill="rgb(173,173,173)"/>
<ellipse cx="1146.0" cy="574.0" rx="10.6" ry="11.6" fill="rgb(173,173,173)"/>
<ellipse cx="1144.0" cy="591.0" rx="4.6" ry="7.6" fill="rgb(173,173,173)"/>
<ellipse cx="1075.0" cy="568.0" rx="8.6" ry="10.6" fill="rgb(173,173,173)"/>
<ellipse cx="1084.0" cy="544.0" rx="2.6" ry="13.6" fill="rgb(173,173,173)" transform="rotate(10 1084.0 544.0)"/>
<ellipse cx="1014.0" cy="504.0" rx="4.6" ry="7.6" fill="rgb(173,173,173)"/>
<ellipse cx="273.0" cy="294.0" rx="7.1" ry="10.6" fill="rgb(173,173,173)"/>
<ellipse cx="324.0" cy="347.0" rx="3.6" ry="7.6" fill="rgb(173,173,173)"/>
<ellipse cx="283.0" cy="376.0" rx="5.1" ry="10.6" fill="rgb(173,173,173)"/>
<ellipse cx="1006.0" cy="319.0" rx="3.1" ry="5.6" fill="rgb(173,173,173)"/>
<ellipse cx="1110.0" cy="394.0" rx="4.6" ry="7.6" fill="rgb(173,173,173)"/>
<ellipse cx="282.0" cy="510.0" rx="7.1" ry="14.6" fill="rgb(173,173,173)"/>
<ellipse cx="299.6" cy="494.0" rx="3.6" ry="12.6" fill="rgb(173,173,173)"/>
<ellipse cx="253.0" cy="530.0" rx="4.6" ry="9.6" fill="rgb(173,173,173)"/>
<ellipse cx="963.0" cy="547.0" rx="5.6" ry="9.6" fill="rgb(173,173,173)"/>
<ellipse cx="1134.0" cy="549.0" rx="7.6" ry="10.6" fill="rgb(173,173,173)"/>
<ellipse cx="1157.0" cy="562.0" rx="6.1" ry="11.6" fill="rgb(173,173,173)"/>
<ellipse cx="1145.0" cy="574.0" rx="6.6" ry="7.6" fill="rgb(173,173,173)"/>
<ellipse cx="251.6" cy="372.0" rx="4.3" ry="15.8" fill="rgb(73,73,73)"/>
<ellipse cx="456.0" cy="386.0" rx="5.8" ry="8.8" fill="rgb(73,73,73)" transform="rotate(-10 456.0 386.0)"/>
<ellipse cx="505.0" cy="416.0" rx="5.8" ry="11.8" fill="rgb(73,73,73)"/>
<ellipse cx="256.0" cy="507.0" rx="8.3" ry="17.8" fill="rgb(73,73,73)" transform="rotate(-35 256.0 507.0)"/>
<ellipse cx="235.0" cy="529.0" rx="5.8" ry="11.8" fill="rgb(73,73,73)" transform="rotate(10 235.0 529.0)"/>
<ellipse cx="230.0" cy="560.0" rx="4.8" ry="8.8" fill="rgb(73,73,73)" transform="rotate(15 230.0 560.0)"/>
<ellipse cx="943.0" cy="557.0" rx="6.3" ry="13.8" fill="rgb(73,73,73)" transform="rotate(35 943.0 557.0)"/>
<ellipse cx="872.0" cy="531.0" rx="6.8" ry="10.8" fill="rgb(73,73,73)"/>
<ellipse cx="1068.0" cy="541.0" rx="6.3" ry="11.8" fill="rgb(73,73,73)"/>
<ellipse cx="1197.0" cy="585.0" rx="9.8" ry="14.8" fill="rgb(73,73,73)" transform="rotate(28 1197.0 585.0)"/>
<ellipse cx="1191.0" cy="616.0" rx="9.8" ry="18.8" fill="rgb(73,73,73)" transform="rotate(-5 1191.0 616.0)"/>
<ellipse cx="1198.0" cy="643.0" rx="8.8" ry="16.8" fill="rgb(73,73,73)" transform="rotate(-12 1198.0 643.0)"/>
<ellipse cx="1208.0" cy="668.0" rx="19.8" ry="11.8" fill="rgb(73,73,73)"/>
<ellipse cx="1190.0" cy="664.0" rx="7.8" ry="9.8" fill="rgb(73,73,73)"/>
<ellipse cx="273.0" cy="294.0" rx="6.1" ry="9.6" fill="rgb(185,185,185)"/>
<ellipse cx="324.0" cy="347.0" rx="2.6" ry="6.6" fill="rgb(185,185,185)"/>
<ellipse cx="283.0" cy="376.0" rx="4.1" ry="9.6" fill="rgb(185,185,185)"/>
<ellipse cx="1006.0" cy="319.0" rx="2.1" ry="4.6" fill="rgb(185,185,185)"/>
<ellipse cx="1110.0" cy="394.0" rx="3.6" ry="6.6" fill="rgb(185,185,185)"/>
<ellipse cx="282.0" cy="510.0" rx="6.1" ry="13.6" fill="rgb(185,185,185)"/>
<ellipse cx="299.6" cy="494.0" rx="2.6" ry="11.6" fill="rgb(185,185,185)"/>
<ellipse cx="253.0" cy="530.0" rx="3.6" ry="8.6" fill="rgb(185,185,185)"/>
<ellipse cx="963.0" cy="547.0" rx="4.6" ry="8.6" fill="rgb(185,185,185)"/>
<ellipse cx="1134.0" cy="549.0" rx="6.6" ry="9.6" fill="rgb(185,185,185)"/>
<ellipse cx="1157.0" cy="562.0" rx="5.1" ry="10.6" fill="rgb(185,185,185)"/>
<ellipse cx="1145.0" cy="574.0" rx="5.6" ry="6.6" fill="rgb(185,185,185)"/>
<ellipse cx="284.0" cy="381.0" rx="4.1" ry="8.6" fill="rgb(191,191,191)"/>
<ellipse cx="285.0" cy="513.0" rx="4.1" ry="11.6" fill="rgb(191,191,191)"/>
<ellipse cx="963.0" cy="549.0" rx="3.1" ry="5.6" fill="rgb(191,191,191)"/>
<ellipse cx="251.6" cy="372.0" rx="3.3" ry="14.8" fill="rgb(60,60,60)"/>
<ellipse cx="456.0" cy="386.0" rx="4.8" ry="7.8" fill="rgb(60,60,60)" transform="rotate(-10 456.0 386.0)"/>
<ellipse cx="505.0" cy="416.0" rx="4.8" ry="10.8" fill="rgb(60,60,60)"/>
<ellipse cx="256.0" cy="507.0" rx="7.3" ry="16.8" fill="rgb(60,60,60)" transform="rotate(-35 256.0 507.0)"/>
<ellipse cx="235.0" cy="529.0" rx="4.8" ry="10.8" fill="rgb(60,60,60)" transform="rotate(10 235.0 529.0)"/>
<ellipse cx="230.0" cy="560.0" rx="3.8" ry="7.8" fill="rgb(60,60,60)" transform="rotate(15 230.0 560.0)"/>
<ellipse cx="943.0" cy="557.0" rx="5.3" ry="12.8" fill="rgb(60,60,60)" transform="rotate(35 943.0 557.0)"/>
<ellipse cx="872.0" cy="531.0" rx="5.8" ry="9.8" fill="rgb(60,60,60)"/>
<ellipse cx="1068.0" cy="541.0" rx="5.3" ry="10.8" fill="rgb(60,60,60)"/>
<ellipse cx="1197.0" cy="585.0" rx="8.8" ry="13.8" fill="rgb(60,60,60)" transform="rotate(28 1197.0 585.0)"/>
<ellipse cx="1191.0" cy="616.0" rx="8.8" ry="17.8" fill="rgb(60,60,60)" transform="rotate(-5 1191.0 616.0)"/>
<ellipse cx="1198.0" cy="643.0" rx="7.8" ry="15.8" fill="rgb(60,60,60)" transform="rotate(-12 1198.0 643.0)"/>
<ellipse cx="1208.0" cy="668.0" rx="18.8" ry="10.8" fill="rgb(60,60,60)"/>
<ellipse cx="1190.0" cy="664.0" rx="6.8" ry="8.8" fill="rgb(60,60,60)"/>
<ellipse cx="284.0" cy="381.0" rx="3.1" ry="7.6" fill="rgb(207,207,207)"/>
<ellipse cx="285.0" cy="513.0" rx="3.1" ry="10.6" fill="rgb(207,207,207)"/>
<ellipse cx="963.0" cy="549.0" rx="2.1" ry="4.6" fill="rgb(207,207,207)"/>
</g>
<path d="M899.3 286.0 L899.3 288.0 L911.2 296.6 L923.2 301.0 L934.5 305.9 L941.1 307.2 L956.4 315.2 L964.3 316.5 L982.9 321.4 L1000.2 313.9 L1006.8 313.6 L1014.8 315.6 L1022.7 319.2 L1036.0 331.1 L1047.3 342.1 L1060.6 348.0 L1069.9 348.6 L1077.9 352.7 L1081.2 355.9 L1087.2 356.2 L1095.1 359.6 L1108.4 359.9 L1111.7 356.6 L1116.4 362.0 L1112.1 363.0 L1118.0 370.0 L1130.0 381.0 L1140.5 390.0 L1140.0 402.0 L1141.5 408.5 L1149.0 413.0 L1154.0 409.0 L1157.5 413.0 L1168.0 419.0 L1171.5 424.0 L1171.0 430.0 L1177.0 432.0 L1182.0 435.5 L1186.0 433.5 L1196.0 436.0 L1205.0 441.5 L1212.0 442.0 L1213.5 450.5 L1229.0 445.8 L1229.0 419.6 L1206.0 427.5 L1200.0 423.5 L1194.5 422.5 L1192.0 416.5 L1185.0 412.0 L1179.0 407.0 L1172.0 395.0 L1169.5 389.0 L1171.5 383.0 L1172.0 376.0 L1174.0 370.0 L1174.5 365.0 L1174.8 349.0 L1178.5 342.4 L1177.4 330.4 L1170.1 326.5 L1162.8 319.8 L1152.2 317.8 L1144.3 319.2 L1137.6 317.7 L1122.3 321.4 L1112.4 319.2 L1104.4 322.7 L1092.5 316.1 L1099.8 310.5 L1103.1 301.2 L1103.8 286.0 Z" fill="#fff" stroke="#fff" stroke-width="7" stroke-linejoin="miter" shape-rendering="crispEdges"/>
<path d="M899.3 286.0 L899.3 288.0 L911.2 296.6 L923.2 301.0 L934.5 305.9 L941.1 307.2 L956.4 315.2 L964.3 316.5 L982.9 321.4 L1000.2 313.9 L1006.8 313.6 L1014.8 315.6 L1022.7 319.2 L1036.0 331.1 L1047.3 342.1 L1060.6 348.0 L1069.9 348.6 L1077.9 352.7 L1081.2 355.9 L1087.2 356.2 L1095.1 359.6 L1108.4 359.9 L1111.7 356.6 L1116.4 362.0 L1112.1 363.0 L1118.0 370.0 L1130.0 381.0 L1140.5 390.0 L1140.0 402.0 L1141.5 408.5 L1149.0 413.0 L1154.0 409.0 L1157.5 413.0 L1168.0 419.0 L1171.5 424.0 L1171.0 430.0 L1177.0 432.0 L1182.0 435.5 L1186.0 433.5 L1196.0 436.0 L1205.0 441.5 L1212.0 442.0 L1213.5 450.5 L1229.0 445.8 L1229.0 419.6 L1206.0 427.5 L1200.0 423.5 L1194.5 422.5 L1192.0 416.5 L1185.0 412.0 L1179.0 407.0 L1172.0 395.0 L1169.5 389.0 L1171.5 383.0 L1172.0 376.0 L1174.0 370.0 L1174.5 365.0 L1174.8 349.0 L1178.5 342.4 L1177.4 330.4 L1170.1 326.5 L1162.8 319.8 L1152.2 317.8 L1144.3 319.2 L1137.6 317.7 L1122.3 321.4 L1112.4 319.2 L1104.4 322.7 L1092.5 316.1 L1099.8 310.5 L1103.1 301.2 L1103.8 286.0 Z" fill="#fff" stroke="#fff" stroke-width="8" stroke-linejoin="miter" shape-rendering="crispEdges" transform="translate(3.5,-3)"/>
<rect x="1049.2" y="568.1" width="18.1" height="7.6" fill="#fff"/>
<path d="M1229.0 561.0 L1225.0 561.0 L1220.5 562.5 L1219.7 569.2 L1213.7 573.3 L1216.0 583.5 L1213.7 592.8 L1220.5 597.7 L1225.0 603.7 L1229.0 603.7 Z" fill="#fff" stroke="#fff" stroke-width="9" stroke-linejoin="miter" shape-rendering="crispEdges"/>
<path d="M1229.0 609.7 L1225.0 609.7 L1213.0 618.0 L1207.0 622.5 L1207.7 631.5 L1213.7 643.5 L1210.0 648.7 L1217.5 654.0 L1225.0 658.5 L1229.0 658.5 Z" fill="#fff" stroke="#fff" stroke-width="9" stroke-linejoin="miter" shape-rendering="crispEdges"/>
<path d="M1204.5 621 L1204 612 L1207 601 L1214 594.5 L1226 604 L1226 609 L1216 613 L1208 621 Z" fill="#f00a0c"/>
<path d="M1214 594.5 L1226 604 L1226 609 L1219 606 Z" fill="#c81424"/>
<path d="M1204.5 621 L1204 612 L1207 601 L1212 595 L1208 606 L1206 621 Z" fill="#ea7a10" opacity="0.9"/>
<path d="M1226 611 L1222 611 L1222 613 L1218 613 L1218 616 L1214 616 L1214 619 L1210 619 L1210 622 L1206 622 L1206 626 L1226 626 Z" fill="#fff"/>
<path d="M899.3 286.0 L899.3 288.0 L911.2 296.6 L923.2 301.0 L934.5 305.9 L941.1 307.2 L956.4 315.2 L964.3 316.5 L982.9 321.4 L1000.2 313.9 L1006.8 313.6 L1014.8 315.6 L1022.7 319.2 L1036.0 331.1 L1047.3 342.1 L1060.6 348.0 L1069.9 348.6 L1077.9 352.7 L1081.2 355.9 L1087.2 356.2 L1095.1 359.6 L1108.4 359.9 L1111.7 356.6 L1116.4 362.0 L1112.1 363.0 L1118.0 370.0 L1130.0 381.0 L1140.5 390.0 L1140.0 402.0 L1141.5 408.5 L1149.0 413.0 L1154.0 409.0 L1157.5 413.0 L1168.0 419.0 L1171.5 424.0 L1171.0 430.0 L1177.0 432.0 L1182.0 435.5 L1186.0 433.5 L1196.0 436.0 L1205.0 441.5 L1212.0 442.0 L1213.5 450.5 L1229.0 445.8 L1229.0 419.6 L1206.0 427.5 L1200.0 423.5 L1194.5 422.5 L1192.0 416.5 L1185.0 412.0 L1179.0 407.0 L1172.0 395.0 L1169.5 389.0 L1171.5 383.0 L1172.0 376.0 L1174.0 370.0 L1174.5 365.0 L1174.8 349.0 L1178.5 342.4 L1177.4 330.4 L1170.1 326.5 L1162.8 319.8 L1152.2 317.8 L1144.3 319.2 L1137.6 317.7 L1122.3 321.4 L1112.4 319.2 L1104.4 322.7 L1092.5 316.1 L1099.8 310.5 L1103.1 301.2 L1103.8 286.0 Z" fill="#808080" stroke="#000" stroke-width="1.1" stroke-linejoin="round"/>
<path d="M1055.1 557.2 L1064.6 569.7 L1059.2 575.4 L1054.3 572.7 L1058.6 569.2 L1054.3 565.1 Z" fill="#808080" stroke="#000" stroke-width="1.1" stroke-linejoin="round"/>
<path d="M1229.0 561.0 L1225.0 561.0 L1220.5 562.5 L1219.7 569.2 L1213.7 573.3 L1216.0 583.5 L1213.7 592.8 L1220.5 597.7 L1225.0 603.7 L1229.0 603.7 Z" fill="#808080" stroke="#000" stroke-width="1.1" stroke-linejoin="round"/>
<path d="M1229.0 609.7 L1225.0 609.7 L1213.0 618.0 L1207.0 622.5 L1207.7 631.5 L1213.7 643.5 L1210.0 648.7 L1217.5 654.0 L1225.0 658.5 L1229.0 658.5 Z" fill="#808080" stroke="#000" stroke-width="1.1" stroke-linejoin="round"/>
<path d="M1220 436.5 L1226 434 L1226 444.5 L1221.5 440 Z" fill="#fff" stroke="#000" stroke-width="1"/>
</g>
<line x1="188" x2="1216" y1="331.8" y2="331.8" stroke="#1a1a1a" stroke-width="1.3" stroke-dasharray="1.2 2.8" opacity="0.9"/>
<line x1="188" x2="1216" y1="408.2" y2="408.2" stroke="#1a1a1a" stroke-width="1.3" stroke-dasharray="1.2 2.8" opacity="0.9"/>
<line x1="188" x2="1216" y1="483.6" y2="483.6" stroke="#1a1a1a" stroke-width="1.3" stroke-dasharray="1.2 2.8" opacity="0.9"/>
<line x1="188" x2="1216" y1="558.6" y2="558.6" stroke="#1a1a1a" stroke-width="1.3" stroke-dasharray="1.2 2.8" opacity="0.9"/>
<line x1="188" x2="1216" y1="633.6" y2="633.6" stroke="#1a1a1a" stroke-width="1.3" stroke-dasharray="1.2 2.8" opacity="0.9"/>
<line y1="296" y2="669" x1="401.2" x2="401.2" stroke="#1a1a1a" stroke-width="1.2" stroke-dasharray="1.2 2.8" opacity="0.85"/>
<line y1="296" y2="669" x1="626.4" x2="626.4" stroke="#1a1a1a" stroke-width="1.2" stroke-dasharray="1.2 2.8" opacity="0.85"/>
<line y1="296" y2="669" x1="851.6" x2="851.6" stroke="#1a1a1a" stroke-width="1.2" stroke-dasharray="1.2 2.8" opacity="0.85"/>
<line y1="296" y2="669" x1="1076.8" x2="1076.8" stroke="#1a1a1a" stroke-width="1.2" stroke-dasharray="1.2 2.8" opacity="0.85"/>
<rect x="176" y="285.5" width="1051" height="393.5" fill="none" stroke="#000" stroke-width="4" stroke-linejoin="round"/>
<line x1="178" x2="186.4" y1="331.8" y2="331.8" stroke="#000" stroke-width="4"/>
<line x1="1216.6" x2="1225" y1="331.8" y2="331.8" stroke="#000" stroke-width="4"/>
<line x1="178" x2="186.4" y1="408.2" y2="408.2" stroke="#000" stroke-width="4"/>
<line x1="1216.6" x2="1225" y1="408.2" y2="408.2" stroke="#000" stroke-width="4"/>
<line x1="178" x2="186.4" y1="483.6" y2="483.6" stroke="#000" stroke-width="4"/>
<line x1="1216.6" x2="1225" y1="483.6" y2="483.6" stroke="#000" stroke-width="4"/>
<line x1="178" x2="186.4" y1="558.6" y2="558.6" stroke="#000" stroke-width="4"/>
<line x1="1216.6" x2="1225" y1="558.6" y2="558.6" stroke="#000" stroke-width="4"/>
<line x1="178" x2="186.4" y1="633.6" y2="633.6" stroke="#000" stroke-width="4"/>
<line x1="1216.6" x2="1225" y1="633.6" y2="633.6" stroke="#000" stroke-width="4"/>
<line y1="287.5" y2="296" x1="401.2" x2="401.2" stroke="#000" stroke-width="4"/>
<line y1="668.8" y2="677" x1="401.2" x2="401.2" stroke="#000" stroke-width="4"/>
<line y1="287.5" y2="296" x1="626.4" x2="626.4" stroke="#000" stroke-width="4"/>
<line y1="668.8" y2="677" x1="626.4" x2="626.4" stroke="#000" stroke-width="4"/>
<line y1="287.5" y2="296" x1="851.6" x2="851.6" stroke="#000" stroke-width="4"/>
<line y1="668.8" y2="677" x1="851.6" x2="851.6" stroke="#000" stroke-width="4"/>
<line y1="287.5" y2="296" x1="1076.8" x2="1076.8" stroke="#000" stroke-width="4"/>
<line y1="668.8" y2="677" x1="1076.8" x2="1076.8" stroke="#000" stroke-width="4"/>
<text class="tk" x="171.0" y="340.3" text-anchor="end">15<tspan class="sup" dy="-7.8">o</tspan><tspan dy="7.8">N</tspan></text>
<text class="tk" x="171.0" y="416.7" text-anchor="end">10<tspan class="sup" dy="-7.8">o</tspan><tspan dy="7.8">N</tspan></text>
<text class="tk" x="171.0" y="492.1" text-anchor="end">5<tspan class="sup" dy="-7.8">o</tspan><tspan dy="7.8">N</tspan></text>
<text class="tk" x="165.6" y="567.1" text-anchor="end">0<tspan class="sup" dy="-7.8">o</tspan><tspan dy="7.8"></tspan></text>
<text class="tk" x="171.0" y="642.1" text-anchor="end">5<tspan class="sup" dy="-7.8">o</tspan><tspan dy="7.8">S</tspan></text>
<text class="tk" x="176.7" y="701.0" text-anchor="middle">150<tspan class="sup" dy="-7.8">o</tspan><tspan dy="7.8">W</tspan></text>
<text class="tk" x="401.9" y="701.0" text-anchor="middle">135<tspan class="sup" dy="-7.8">o</tspan><tspan dy="7.8">W</tspan></text>
<text class="tk" x="627.1" y="701.0" text-anchor="middle">120<tspan class="sup" dy="-7.8">o</tspan><tspan dy="7.8">W</tspan></text>
<text class="tk" x="852.3" y="701.0" text-anchor="middle">105<tspan class="sup" dy="-7.8">o</tspan><tspan dy="7.8">W</tspan></text>
<text class="tk" x="1077.5" y="701.0" text-anchor="middle">90<tspan class="sup" dy="-7.8">o</tspan><tspan dy="7.8">W</tspan></text>
<rect x="174.5" y="711.5" width="1050.5" height="19" fill="url(#cbg)" stroke="#262626" stroke-width="1"/>
<line x1="349.4" x2="349.4" y1="720" y2="731" stroke="#262626" stroke-width="1"/>
<line x1="524.5" x2="524.5" y1="720" y2="731" stroke="#262626" stroke-width="1"/>
<line x1="699.6" x2="699.6" y1="720" y2="731" stroke="#262626" stroke-width="1"/>
<line x1="874.7" x2="874.7" y1="720" y2="731" stroke="#262626" stroke-width="1"/>
<line x1="1049.8" x2="1049.8" y1="720" y2="731" stroke="#262626" stroke-width="1"/>
<text class="cb" x="174.3" y="755" text-anchor="middle">-0.03</text>
<text class="cb" x="349.4" y="755" text-anchor="middle">-0.02</text>
<text class="cb" x="524.5" y="755" text-anchor="middle">-0.01</text>
<text class="cb" x="699.6" y="755" text-anchor="middle">0</text>
<text class="cb" x="874.7" y="755" text-anchor="middle">0.01</text>
<text class="cb" x="1049.8" y="755" text-anchor="middle">0.02</text>
<text class="cb" x="1224.9" y="755" text-anchor="middle">0.03</text>
<text class="cb" x="700" y="779" text-anchor="middle" >°C/km</text>
</svg></body></html>
